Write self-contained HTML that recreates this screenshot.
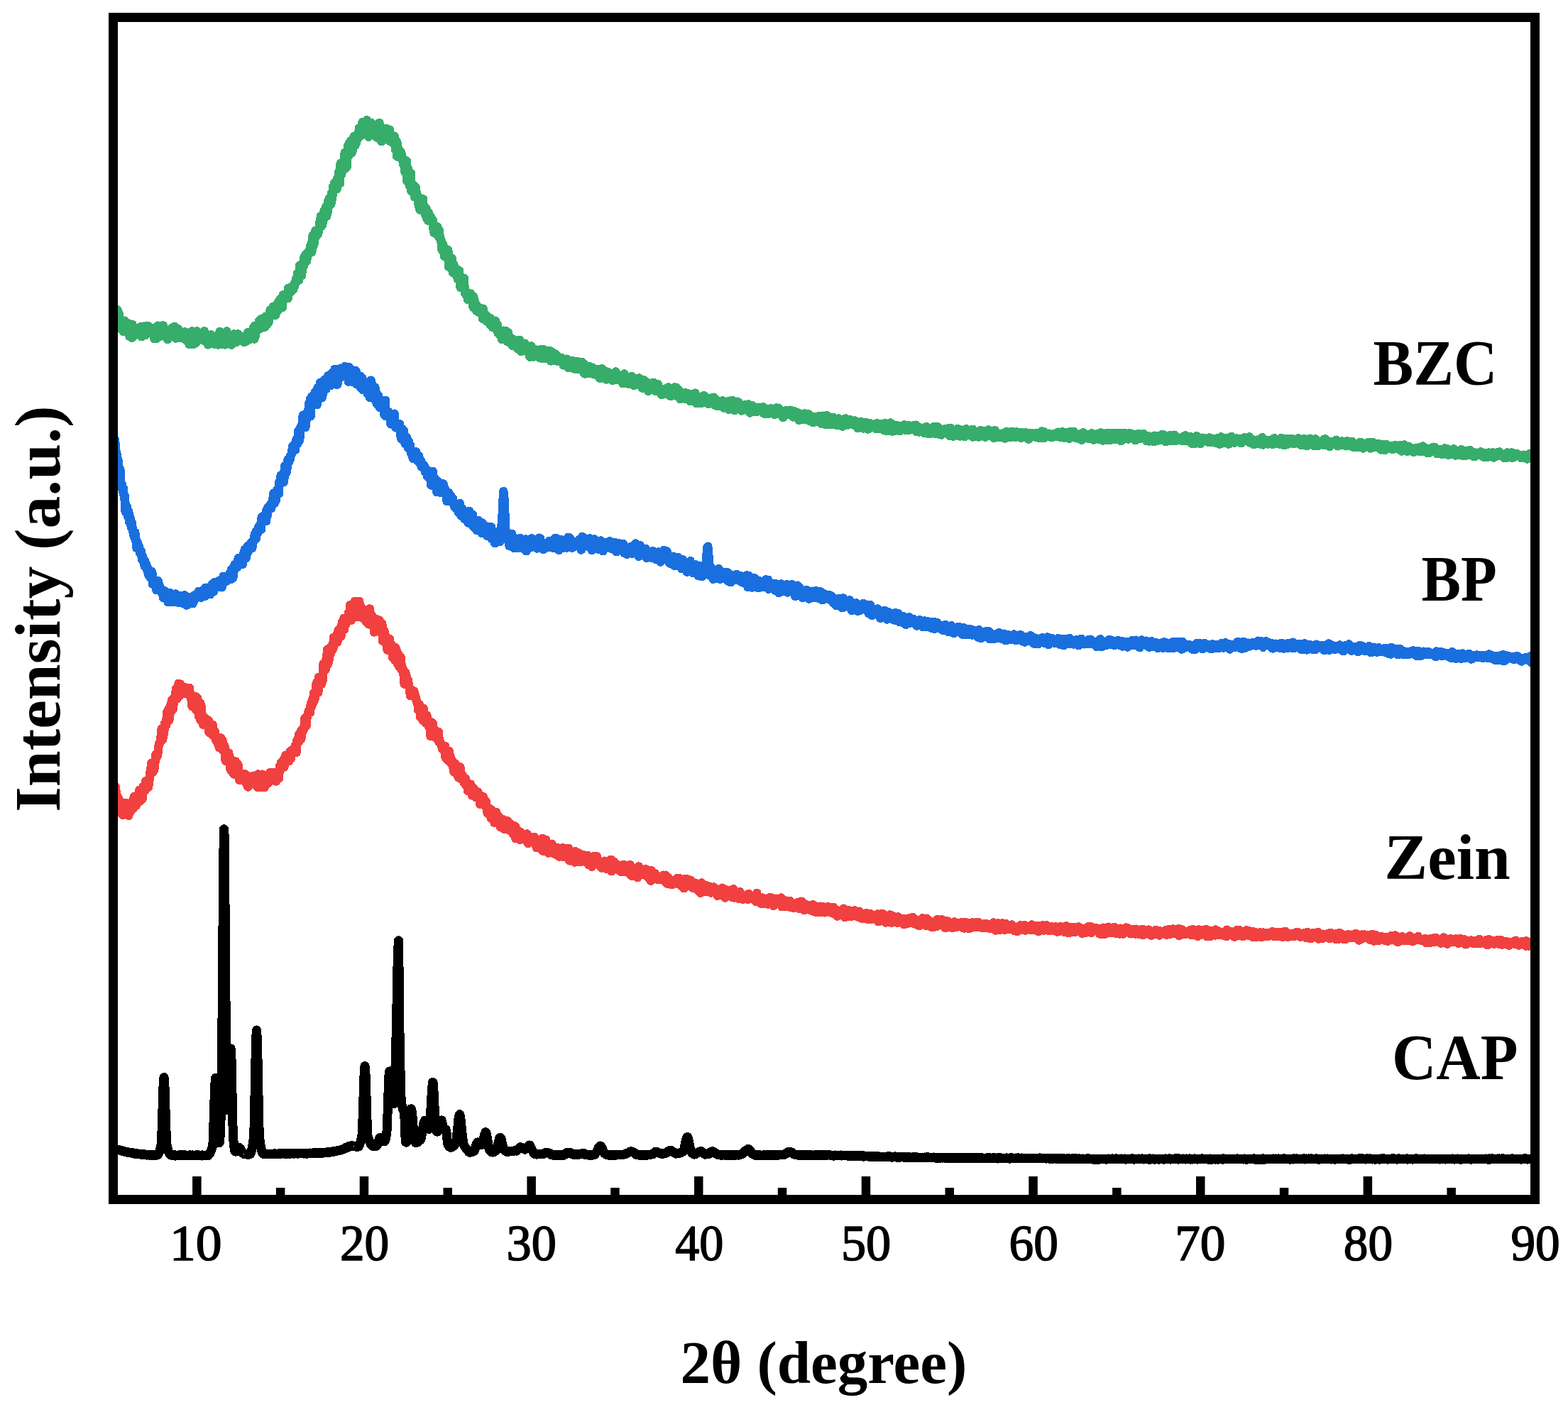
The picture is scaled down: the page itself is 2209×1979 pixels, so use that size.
<!DOCTYPE html>
<html lang="en">
<head>
<meta charset="utf-8">
<title>XRD patterns</title>
<style>
html,body{margin:0;padding:0;background:#fff;}
body{width:2209px;height:1979px;overflow:hidden;}
svg{display:block;}
text{font-family:"Liberation Serif",serif;fill:#000;}
.c{fill:none;stroke-linejoin:round;stroke-linecap:butt;shape-rendering:crispEdges;}
.tk{font-size:72px;stroke:#000;stroke-width:1.6px;stroke-linejoin:round;}
.b{font-size:90px;font-weight:bold;}
.xl{font-size:85px;font-weight:bold;}
</style>
</head>
<body>
<svg width="2209" height="1979" viewBox="0 0 2209 1979">
<rect width="2209" height="1979" fill="#fff"/>
<g>
<path class="c" stroke="#37AD6B" stroke-width="50" transform="translate(159.5 0) scale(.25)" d="M0 1746l3-11 3-2 3 7 3 27 3-10 3 14 3 3 3-28 3 62 3 13 3-50 3 31 3 29 3-13 3 4 3 35 3-22 3-14 3 47 3-37 3-24 3 45 3-7 3-12 3 19 3 5 3 13 3-5 3-42 3 31 3 43 3-27 3-5 3 30 3 8 3-74 3 24 3 42 3-41 3 17 3-16 3-4 3 14 3-7 3 17 3-15 3 18 3-2 3-14 3 0 3-20 3 40 3 15 3-25 3-6 3 5 3-32 3 33 3 4 3-6 3 17 3-18 3-26 3-7 3 0 3 12 3 11 3 11 3-7 3-11 3 5 3-7 3 26 3-25 3 29 3 12 3 17 3-43 3-19 3 14 3 48 3-51 3 36 3-59 3 28 3 0 3 20 3-46 3 57 3-33 3 19 3-29 3 31 3-48 3 50 3 5 3-35 3 29 3 2 3-24 3 18 3 33 3-45 3 15 3-23 3 10 3-10 3 16 3 1 3-29 3 16 3 6 3 27 3-20 3-36 3 9 3 57 3-30 3-1 3 18 3-41 3 23 3 29 3-30 3 4 3 10 3 12 3-31 3 7 3 15 3 0 3 17 3-26 3 19 3-31 3 23 3 7 3 20 3-6 3 9 3-7 3-8 3 33 3-25 3-7 3 8 3-16 3-35 3 46 3 14 3 13 3-27 3-21 3 21 3 21 3-31 3-36 3 38 3-4 3-10 3 12 3-3 3-13 3 15 3 0 3-1 3 0 3-12 3 30 3-13 3-39 3 46 3-31 3 27 3-2 3 9 3-13 3 40 3-4 3-37 3 12 3-8 3-11 3-8 3 20 3 3 3-13 3 24 3 16 3-32 3 35 3-17 3-16 3-12 3-3 3 13 3 38 3-26 3-26 3-21 3 10 3 34 3 28 3-38 3-23 3 53 3-8 3 5 3-33 3 45 3-63 3 56 3-69 3 68 3-38 3 0 3 12 3-1 3 4 3 9 3-4 3 27 3-30 3 9 3-18 3 5 3-27 3 12 3-3 3 16 3 22 3-22 3-4 3-22 3 30 3 2 3-11 3 19 3-18 3-7 3 10 3-7 3 18 3 1 3-16 3 27 3-13 3-2 3-23 3 25 3 5 3-25 3-23 3-1 3 24 3 17 3-4 3-19 3 0 3-20 3 12 3-14 3 30 3-55 3 67 3-75 3 59 3-29 3-23 3 19 3-17 3 0 3-14 3-22 3 42 3 2 3-40 3-15 3 46 3-19 3-10 3 12 3-11 3 1 3 26 3-36 3-23 3 5 3 40 3-11 3-16 3 15 3-24 3-3 3-43 3 29 3-21 3 20 3-11 3-34 3 46 3-43 3 43 3 2 3-2 3-21 3-2 3-36 3-9 3 40 3-49 3 35 3-45 3 44 3-38 3 26 3-1 3 13 3-70 3 5 3 20 3-14 3 5 3 1 3 2 3-2 3-19 3 21 3-58 3 16 3-5 3 8 3 4 3-11 3 6 3-26 3 15 3 2 3-17 3 2 3-24 3 6 3-18 3-16 3 19 3-45 3 14 3-19 3 44 3-82 3 21 3 1 3-11 3 45 3-40 3-4 3-31 3 17 3-49 3 21 3-9 3-25 3 41 3-17 3-8 3-29 3 9 3-1 3-13 3-25 3 21 3-38 3 47 3-18 3-76 3 61 3-41 3 24 3-55 3-15 3 11 3-7 3 6 3 12 3-9 3-11 3-20 3-32 3-4 3-28 3 58 3-27 3 16 3-55 3 15 3-36 3 40 3-13 3-38 3-15 3 56 3-59 3 33 3-63 3 33 3-46 3-2 3 32 3 5 3-63 3 33 3-23 3-48 3 4 3 13 3-38 3 14 3 6 3-17 3 33 3-61 3 7 3-15 3-31 3 14 3 54 3-113 3 20 3 41 3-32 3 2 3-7 3 2 3 7 3-94 3 32 3 33 3 20 3-7 3-64 3-53 3 8 3 47 3-72 3 28 3-37 3 44 3 23 3-8 3-22 3-26 3-36 3 37 3 15 3-40 3 29 3-42 3 17 3-2 3-7 3-24 3-30 3 24 3-21 3 41 3-41 3 8 3-44 3 34 3 22 3-14 3-27 3 47 3-11 3-47 3-16 3 29 3 7 3-4 3 62 3-40 3 21 3-43 3-15 3-2 3 46 3-21 3-12 3 30 3-25 3 39 3-31 3 24 3-4 3 36 3-29 3-10 3-39 3 57 3-61 3 56 3-16 3 36 3 29 3-41 3 24 3 8 3-53 3 9 3 34 3-52 3 41 3-43 3 32 3 9 3-34 3 47 3-28 3-19 3 65 3-37 3 1 3 10 3-4 3 40 3-33 3 31 3-37 3 19 3 58 3-46 3-2 3 86 3-69 3 37 3 24 3-19 3-4 3 9 3-6 3 11 3 7 3 21 3 12 3 22 3-18 3 18 3 43 3-63 3 38 3-39 3 116 3-19 3-52 3 18 3 30 3 51 3-50 3-24 3 102 3-16 3-2 3-20 3 26 3 0 3 44 3-32 3-23 3 37 3-4 3 13 3 14 3 32 3-33 3 55 3 13 3-45 3 16 3-9 3 17 3 17 3-57 3 63 3-6 3-14 3 46 3-25 3-9 3 56 3-18 3 17 3 13 3-43 3 28 3-9 3-1 3 29 3-5 3-8 3 5 3 46 3-8 3 35 3-14 3 15 3-21 3 26 3-14 3-27 3 28 3 18 3-28 3 45 3-8 3 16 3 7 3 44 3 10 3-30 3 1 3 14 3 50 3-43 3 2 3 14 3 35 3-2 3 2 3-44 3 94 3-17 3-33 3 45 3-21 3-1 3-22 3 60 3 23 3-16 3-28 3 30 3 21 3 4 3-11 3 2 3-20 3 53 3-40 3 9 3-16 3 47 3 47 3-55 3 43 3 15 3-4 3-29 3 5 3-26 3 61 3 25 3-10 3 20 3-9 3 1 3 33 3-16 3-8 3 25 3-4 3-32 3 32 3-8 3 10 3 0 3 43 3-58 3 14 3 14 3 30 3 11 3 8 3-29 3 16 3 3 3 18 3-2 3-14 3 17 3-16 3-5 3 7 3-3 3 55 3-57 3 41 3 15 3-11 3 9 3-19 3 35 3-17 3-8 3 8 3 8 3 19 3 1 3-28 3 40 3-5 3-12 3 27 3-16 3 9 3-3 3 3 3-29 3 2 3 21 3 27 3 1 3-27 3 46 3-16 3 0 3 9 3 19 3-19 3 4 3 38 3-30 3 13 3-32 3 34 3-23 3 4 3-8 3-5 3 7 3 51 3-26 3-22 3 28 3 27 3-30 3 20 3-15 3 22 3-12 3 33 3-36 3 20 3-15 3 32 3-13 3 6 3-17 3 19 3 17 3 4 3-40 3 5 3-15 3 31 3 3 3 31 3-33 3 17 3-14 3 26 3-2 3-1 3-38 3 30 3-16 3 16 3 2 3 1 3 16 3 0 3-10 3 34 3 3 3-27 3-34 3 14 3 5 3 36 3 5 3-13 3-3 3-13 3-11 3 16 3 11 3-21 3 16 3 6 3 0 3 17 3-21 3 14 3-3 3-37 3 29 3 3 3 21 3-53 3 48 3-9 3 12 3-14 3 4 3-11 3 3 3-16 3 14 3-6 3-18 3 46 3-27 3 40 3-25 3-27 3 41 3-4 3 9 3-31 3 34 3-26 3-11 3 9 3 0 3 14 3 19 3-17 3-1 3 0 3 9 3 11 3-16 3-6 3 15 3 10 3-11 3 28 3-21 3 8 3-2 3 16 3-23 3-13 3 32 3-16 3 33 3-1 3-18 3-7 3 14 3-27 3 25 3-27 3 11 3 33 3-15 3-23 3 38 3-32 3 38 3-16 3-9 3-19 3 24 3 15 3-4 3 0 3 5 3-6 3 13 3-18 3-25 3 13 3 17 3 29 3-49 3 55 3-12 3-7 3-1 3 10 3-10 3 19 3-17 3-24 3 17 3 3 3 9 3-7 3 13 3-25 3-2 3 37 3-21 3 20 3-13 3 2 3 15 3-19 3-8 3 28 3-34 3 20 3 29 3-14 3 17 3-9 3-34 3-11 3 43 3-31 3 8 3 29 3 1 3-19 3-16 3 46 3-16 3 7 3-25 3-7 3 22 3 0 3-14 3 0 3 11 3-3 3 19 3 12 3-31 3 8 3 6 3-12 3 0 3-21 3 16 3 31 3-3 3-16 3 3 3-1 3 16 3-18 3 3 3 3 3-3 3 7 3 28 3-28 3 15 3-41 3 35 3 18 3-26 3-6 3 22 3-12 3-14 3 16 3 25 3-40 3 14 3 17 3-13 3-22 3 13 3 15 3 9 3 16 3-43 3 38 3-24 3 7 3 7 3-11 3 20 3 0 3-18 3-19 3 17 3-1 3-5 3 31 3-10 3 25 3-13 3-33 3 41 3-3 3-8 3-11 3 5 3-11 3 16 3 11 3 22 3-33 3 3 3 9 3-12 3 1 3 9 3 4 3-5 3 5 3-29 3 12 3 16 3 20 3-11 3-8 3-17 3 23 3-25 3 31 3 0 3-5 3-2 3 2 3 29 3 4 3-31 3 28 3-11 3-15 3 9 3-9 3 21 3-27 3 17 3-13 3 28 3-31 3-8 3 8 3 15 3-2 3 30 3-39 3 0 3 18 3-24 3 31 3 6 3-15 3-28 3 16 3 32 3-45 3 28 3 8 3-1 3-22 3 14 3 17 3 20 3-9 3-23 3 23 3-6 3-2 3 4 3-14 3 24 3-15 3-18 3 15 3 20 3-31 3 16 3-4 3 3 3 20 3 7 3-9 3-28 3 10 3 27 3-28 3 17 3-16 3-1 3 20 3-36 3 29 3 0 3 29 3-29 3 29 3-36 3 13 3-5 3-3 3 12 3 5 3-10 3 21 3-9 3 4 3-36 3 31 3-10 3-8 3-5 3 13 3-9 3 6 3 4 3 25 3-16 3-9 3 21 3-19 3-10 3 17 3-14 3 19 3 11 3-37 3 27 3 16 3-32 3 21 3 12 3-27 3 32 3-18 3 14 3-13 3 2 3-6 3 0 3 16 3-3 3-20 3-2 3 5 3 35 3-19 3-5 3 3 3-11 3 6 3 5 3-1 3-13 3 44 3-48 3 7 3 21 3-3 3 1 3-9 3-20 3 27 3-6 3-10 3 46 3-25 3 17 3-6 3 3 3-39 3 10 3-8 3 27 3-15 3 13 3-1 3 6 3 19 3-1 3-27 3 7 3-10 3 15 3-17 3 8 3-5 3 3 3 3 3 16 3 0 3-28 3 42 3-31 3 37 3-6 3-16 3-17 3-3 3 14 3 8 3 15 3-16 3-9 3 19 3 0 3 3 3-14 3 14 3-6 3-17 3 15 3 3 3-4 3 3 3-3 3-11 3 0 3-3 3-2 3 36 3 1 3-17 3 3 3 0 3-1 3 5 3 13 3-27 3 14 3 5 3-16 3-3 3-5 3 13 3 5 3-1 3 2 3-16 3 25 3 7 3-12 3 7 3-33 3 18 3-15 3 15 3-17 3 33 3-21 3-5 3 17 3-7 3-1 3 7 3 2 3 29 3-30 3 7 3-1 3 10 3-25 3 18 3-9 3-11 3 16 3-16 3 17 3 1 3 7 3-26 3 19 3 1 3-4 3-5 3 28 3-6 3-27 3 4 3 17 3 13 3-11 3 5 3 3 3-22 3 18 3 23 3-13 3-15 3 16 3 2 3-25 3 7 3 16 3 7 3-4 3-10 3-18 3 34 3-22 3 5 3-6 3 20 3-28 3 14 3 23 3-30 3 11 3 16 3-18 3 11 3-11 3 11 3 21 3-33 3 11 3 10 3 4 3 0 3 3 3-23 3 21 3 1 3-30 3 29 3-14 3-11 3 7 3 30 3-1 3 4 3-46 3 15 3 0 3 14 3 19 3-21 3-15 3-14 3 29 3-3 3 7 3-18 3 37 3-8 3 5 3-36 3 39 3-27 3 18 3-32 3 29 3 6 3-17 3-4 3-4 3 25 3 9 3-28 3 12 3-16 3-6 3 18 3-3 3 10 3 3 3-1 3 13 3 5 3-28 3 8 3-9 3-14 3 19 3-21 3 27 3-16 3 6 3 19 3-19 3 10 3-15 3-6 3 3 3 13 3-8 3 12 3 0 3-4 3 5 3 11 3-26 3 6 3 11 3-5 3-2 3 10 3 23 3-31 3 5 3-3 3 23 3-31 3 8 3 18 3-16 3 0 3 28 3-7 3-17 3 0 3-5 3-5 3 19 3-3 3-2 3 24 3-24 3 17 3-27 3 10 3-1 3 11 3-5 3 7 3-13 3 12 3-14 3 8 3 7 3 7 3 4 3-32 3 10 3-8 3 4 3 11 3 0 3 2 3-16 3 29 3-28 3 5 3 5 3 7 3 18 3-21 3-12 3-7 3 21 3-4 3 27 3-27 3 15 3 5 3-18 3 25 3-9 3-37 3 12 3 5 3 8 3 23 3-38 3 13 3 23 3-23 3 11 3-1 3-19 3 13 3-11 3 12 3 0 3-9 3 28 3-19 3 14 3-19 3 12 3-13 3 8 3 7 3-8 3-17 3 16 3 1 3 13 3-29 3 0 3 19 3-15 3-3 3 27 3-3 3-4 3-6 3-2 3 9 3 3 3-17 3-1 3 19 3-25 3 6 3 23 3-30 3 38 3-18 3 9 3-13 3 23 3-25 3 18 3-2 3 0 3-6 3 3 3 0 3-11 3 24 3 5 3-5 3-27 3 14 3-12 3-5 3 12 3 15 3 12 3-27 3 14 3-12 3 24 3-17 3-3 3 0 3-4 3-12 3 2 3-5 3 15 3 25 3-13 3-5 3-8 3 11 3-23 3 36 3 5 3-6 3 8 3-15 3-5 3 21 3-22 3-3 3 4 3 11 3-22 3 16 3 4 3-18 3 19 3-15 3 3 3-13 3 30 3-1 3 13 3-21 3-23 3 13 3 8 3 20 3-5 3 11 3-20 3-2 3 4 3-11 3-4 3-4 3 7 3-14 3 13 3 26 3-29 3 33 3-12 3-6 3-17 3 15 3 2 3-15 3 24 3 2 3 9 3-25 3 21 3-39 3 29 3 7 3-29 3 5 3-4 3 0 3 19 3-9 3 4 3 7 3 1 3-28 3 43 3-8 3-20 3 14 3-11 3 12 3-11 3 20 3-22 3 15 3-12 3 23 3-16 3-9 3-12 3 18 3-4 3 9 3-17 3-3 3 20 3 9 3-27 3 32 3-11 3-13 3 4 3 5 3 1 3-26 3 32 3-21 3 13 3-6 3 14 3-8 3-8 3 8 3-3 3 26 3-34 3-11 3 13 3 17 3-2 3 2 3-2 3-7 3 15 3 5 3-14 3 1 3 10 3-17 3 5 3 11 3-9 3-12 3 7 3-6 3 29 3-34 3 20 3-24 3 17 3 14 3-15 3-13 3 4 3 13 3 4 3 8 3-31 3 4 3 7 3-11 3 14 3 9 3 1 3-3 3 9 3-12 3-17 3 5 3-4 3 15 3 11 3-2 3-5 3 12 3 1 3-32 3 9 3-2 3 23 3-9 3 0 3-7 3-10 3-1 3 15 3-5 3 8 3-10 3 28 3 0 3-33 3 15 3-9 3 5 3 5 3-15 3 9 3 7 3-4 3-10 3 14 3-3 3-13 3 23 3-7 3-16 3 13 3-7 3 20 3-24 3-4 3 14 3 12 3-36 3 23 3 3 3-25 3 38 3-30 3 25 3-24 3 22 3-9 3 6 3-5 3 2 3-13 3 16 3-9 3 6 3-1 3-8 3 18 3-16 3-1 3 5 3-8 3 10 3 4 3-13 3 2 3 4 3 4 3-20 3-1 3 26 3-1 3-1 3 6 3-8 3-9 3 7 3-22 3 24 3-12 3 22 3-12 3-16 3 9 3 15 3-25 3 19 3-2 3-5 3-3 3 24 3-3 3-36 3 28 3-15 3-4 3 18 3-11 3-3 3-12 3 33 3-6 3-5 3 1 3 1 3-2 3 8 3-1 3 10 3-16 3 10 3-21 3 8 3 26 3-28 3 11 3-24 3 20 3-11 3 21 3-21 3 2 3 10 3 0 3 9 3-3 3-15 3 22 3-18 3-1 3 17 3-13 3-16 3 27 3-5 3-8 3 23 3-19 3-8 3 13 3-14 3-5 3 12 3 4 3 9 3-19 3 24 3-25 3 15 3-27 3 9 3-2 3 10 3 27 3-12 3-17 3 1 3-6 3 20 3 12 3-8 3-33 3 15 3-5 3-1 3 28 3-34 3 38 3-24 3-17 3 15 3 1 3-1 3 1 3 3 3-18 3 35 3-16 3 10 3-18 3-11 3 19 3 11 3-25 3 12 3-2 3-10 3 39 3-44 3 18 3-7 3-9 3 22 3 7 3-17 3-13 3 18 3 13 3-27 3 23 3-5 3 11 3-17 3-16 3 25 3-13 3 6 3-10 3-4 3 24 3-9 3-1 3 2 3 0 3 20 3-20 3-2 3-10 3 12 3 0 3-18 3 21 3-7 3 3 3 11 3-11 3 8 3-18 3 19 3-25 3 9 3 5 3 6 3 11 3-6 3 15 3-4 3-24 3 16 3 14 3-13 3 2 3-13 3-2 3 12 3-5 3 16 3-18 3 10 3 14 3-34 3 15 3-1 3 7 3-10 3-10 3 26 3-11 3-6 3 16 3-15 3 7 3-1 3 1 3-25 3 24 3-23 3 9 3 3 3 2 3 21 3 5 3-18 3 0 3-4 3 17 3-13 3-9 3 13 3-22 3 15 3-2 3 17 3-23 3 19 3-9 3 3 3-22 3 34 3-20 3 18 3-10 3 2 3-11 3 13 3-6 3 7 3-1 3-8 3 9 3 1 3 4 3-13 3 3 3-1 3 12 3-28 3 28 3-30 3 12 3 13 3-5 3-13 3 12 3 3 3 9 3-26 3 31 3-17 3 2 3 24 3-13 3 1 3-19 3 8 3-1 3 24 3-34 3 26 3-34 3 23 3 5 3 7 3-13 3-7 3-3 3 31 3-19 3-5 3-9 3 4 3 7 3 5 3-5 3-2 3-6 3 10 3 6 3-12 3 4 3-8 3 21 3-14 3-11 3 27 3-21 3-1 3 17 3-4 3-11 3 12 3 0 3 5 3 4 3-2 3-10 3-6 3-6 3 3 3 1 3-5 3 20 3 13 3-1 3-23 3-16 3 30 3-3 3 8 3-22 3 9 3-7 3 4 3 5 3-6 3-12 3 12 3 14 3-22 3 30 3-35 3 19 3 11 3-19 3-18 3 22 3 3 3 4 3-18 3 14 3 9 3-1 3-11 3-4 3-1 3-7 3 2 3 8 3-8 3 6 3 5 3-11 3 7 3 18 3-5 3-11 3-11 3 2 3 12 3-18 3 14 3-1 3-11 3 5 3 8 3 2 3-2 3-12 3-7 3 32 3-19 3 11 3-9 3-1 3 4 3 0 3 24 3-9 3 8 3-18 3 5 3 3 3-14 3 4 3 18 3-17 3 12 3-5 3 2 3 3 3-7 3 15 3-39 3 19 3 22 3-28 3 3 3 9 3-7 3 17 3-9 3-5 3-5 3 21 3-22 3 2 3-1 3-1 3 14 3-6 3 13 3-16 3 19 3-9 3-4 3-22 3 8 3 4 3 12 3-7 3 5 3 10 3-14 3-7 3 15 3-3 3 12 3-16 3-20 3 16 3 12 3 8 3 0 3-25 3 30 3-6 3-30 3 21 3 2 3 8 3-7 3-16 3-8 3 17 3-5 3 7 3-9 3 11 3-21 3 7 3 3 3 18 3-12 3 6 3-12 3 13 3-7 3-2 3-8 3 15 3-24 3 7 3 24 3-22 3 20 3-7 3 17 3-18 3 1 3-18 3 15 3-17 3 24 3-22 3 13 3 0 3 25 3-35 3 9 3-3 3 6 3-4 3-14 3 32 3-20 3 15 3-18 3 22 3-4 3 0 3 15 3-7 3-32 3 15 3 12 3-15 3 25 3 2 3-11 3-11 3 9 3-8 3 3 3-9 3 19 3-6 3-6 3-9 3 25 3-34 3 22 3-23 3 20 3-9 3 5 3-7 3 12 3 12 3-12 3 21 3-9 3-12 3-7 3 8 3-1 3 6 3 0 3-7 3-3 3 7 3-6 3-13 3 15 3 11 3 8 3-1 3-6 3-13 3 3 3 5 3 8 3-10 3-13 3 8 3 12 3-9 3 0 3 9 3 4 3-6 3 9 3-8 3-19 3 13 3-8 3 22 3-4 3-16 3-5 3 16 3-2 3-14 3 24 3 7 3 1 3-9 3 8 3-9 3-9 3 11 3-3 3 11 3-18 3 2 3-8 3 9 3 13 3-27 3 30 3-6 3-7 3 16 3 2 3-14 3-5 3 1 3 7 3-15 3 4 3-5 3 10 3-16 3 17 3-1 3-10 3 27 3-9 3-10 3 16 3-31 3 0 3 13 3 7 3 2 3-5 3-1 3 4 3 9 3-11 3-8 3 1 3-3 3 18 3-2 3-3 3 21 3-23 3 3 3 4 3-8 3-5 3 5 3 25 3 0 3-10 3-22 3 10 3-3 3 18 3-1 3-8 3 4 3-3 3-3 3-4 3 7 3 3 3 9 3-20 3 4 3 10 3-1 3 3 3-20 3 5 3 10 3-5 3 9 3 3 3-2 3-14 3 4 3 5 3-16 3 35 3-13 3-10 3 9 3-16 3-6 3 31 3 2 3-19 3 0 3 23 3-8 3 0 3-20 3 1 3 10 3 3 3-2 3 2 3-3 3 0 3 20 3-17 3-1 3 18 3-9 3-12 3 6 3 4 3 1 3 1 3-11 3-4 3 5 3 17 3-21 3 13 3 6 3 3 3-13 3-18 3 11 3-1 3 17 3-19 3 3 3 5 3 9 3 0 3 13 3-21 3 13 3 8 3-24 3 8 3 5 3-17 3 8 3 1 3 8 3-22 3 23 3-23 3 12 3 16 3 2 3-2 3 10 3-21 3 7 3 10 3-21 3 17 3-8 3-4 3 19 3 4 3-20 3-1 3-3 3 1 3-11 3 6 3 26 3-30 3 27 3-25 3 17 3 16 3-11 3 5 3-15 3 7 3-7 3 6 3 0 3-1 3-7 3-10 3 15 3 10 3 11 3-25 3 15 3-14 3 6 3 14 3-8 3-13 3 9 3 1 3-1 3-17 3 14 3 20 3-8 3-17 3 9 3-3 3 21 3-16 3-11 3 8 3 15 3-24 3 15 3 5 3 3 3-27 3-1 3 28 3-10 3-8 3 1 3 2 3 22 3-22 3 13 3 10 3-13 3-5 3 8 3-1 3-10 3 5 3-4 3 10 3 2 3-6 3-12 3 13 3-7 3 3 3-1 3 21 3-18 3 2 3 1 3-6 3-2 3 24 3-22 3 3 3 7 3-14 3 5 3 10 3-6 3 8 3 7 3-14 3-10 3 4 3 24 3-25 3 14 3-3 3 1 3-4 3 9 3-22 3 20 3-13 3-2 3-7 3 19 3-9 3 7 3-3 3 5 3-2 3 13 3-5 3 9 3-17 3 7 3-7 3-5 3 20 3-28 3 24 3-10 3-2 3 2 3-6 3 15 3-2 3-21 3 29 3-12 3 8 3 1 3-9 3 0 3-2 3 2 3-2 3-8 3 4 3 5 3-3 3 5 3 1 3-1 3 5 3 8 3-17 3 4 3 8 3-13 3 2 3 4 3 4 3-2 3-3 3-1 3 19 3-18 3-2 3 2 3-11 3 19 3-16 3-1 3 15 3-5 3-6 3 8 3-6 3 5 3 0"/>
<path class="c" stroke="#1A6FDF" stroke-width="50" transform="translate(159.5 0) scale(.25)" d="M0 2383l3 95 3-4 3 3 3 22 3 41 3 8 3 16 3 51 3-25 3 58 3-8 3 43 3-40 3 83 3-2 3 4 3 21 3 20 3-17 3 34 3 27 3-17 3 89 3-38 3 10 3 1 3 43 3 11 3-29 3 56 3 1 3-24 3 35 3 21 3-27 3 32 3 8 3 28 3-11 3 29 3-31 3 46 3 3 3 39 3-36 3 13 3 29 3-19 3 15 3 26 3-10 3-3 3 12 3 37 3-16 3 5 3 26 3 7 3 16 3-25 3 14 3-1 3 17 3 21 3-16 3 32 3 11 3-27 3 11 3 29 3-38 3 37 3-32 3 68 3-25 3 5 3 6 3-7 3 5 3 22 3 28 3-16 3-38 3 28 3-19 3 47 3-25 3 19 3-9 3 15 3 13 3-12 3 14 3 27 3-13 3 2 3-28 3 12 3 12 3 7 3-12 3-5 3 49 3-51 3 8 3 10 3 6 3-24 3 4 3 45 3-27 3 3 3-12 3 5 3 1 3 9 3-24 3 46 3 0 3-6 3-12 3 21 3 1 3-6 3 4 3-28 3-10 3 3 3 39 3-21 3 7 3 10 3-37 3-4 3 41 3-25 3 18 3 23 3-36 3 29 3-14 3-20 3 14 3-19 3 14 3 1 3-4 3-13 3 39 3-25 3 14 3-3 3-34 3 15 3 5 3-23 3 3 3-3 3 13 3-30 3 32 3-24 3 1 3 5 3 20 3-9 3-30 3 16 3 16 3-11 3-10 3 20 3-47 3 16 3 4 3-21 3 39 3-23 3 12 3-18 3-4 3 32 3-36 3-3 3-9 3-10 3 5 3 22 3 14 3-50 3 35 3-23 3-8 3 9 3-5 3 18 3-25 3-10 3 19 3-8 3-14 3 10 3 21 3 8 3-35 3 2 3-29 3 2 3 15 3 6 3-20 3 13 3 11 3-20 3-1 3 3 3 9 3-18 3-17 3 10 3-9 3-24 3 55 3-46 3 39 3-30 3-13 3-31 3 19 3-23 3 13 3 7 3-1 3-19 3-32 3 11 3 6 3-6 3 2 3 0 3-20 3 38 3 3 3-17 3-46 3 15 3-35 3 21 3 29 3-6 3-25 3-3 3-37 3 30 3-31 3 22 3-18 3 2 3-21 3 16 3 13 3-20 3-14 3-14 3-12 3-20 3 27 3 1 3-45 3 8 3-8 3 8 3-31 3 8 3-11 3-12 3-1 3 30 3-68 3-4 3 13 3 18 3-19 3-2 3-18 3 6 3 29 3-63 3 36 3-47 3-4 3-4 3 15 3-1 3-14 3-15 3 24 3-34 3-2 3-18 3-30 3 42 3 12 3-56 3-6 3 45 3-45 3 7 3-25 3 2 3 25 3-67 3 16 3-6 3-45 3 33 3-27 3 13 3 16 3 3 3-18 3-73 3 37 3 1 3 0 3-10 3-30 3-35 3 20 3-6 3-17 3 5 3-24 3-3 3-5 3-23 3-22 3 25 3-22 3 19 3-1 3 0 3-51 3 9 3-23 3 30 3-42 3-32 3 59 3-3 3-33 3-44 3 12 3-5 3-19 3-47 3-8 3 60 3-49 3 3 3 57 3-52 3-18 3 20 3-34 3-12 3 26 3-70 3 61 3-81 3 95 3-107 3 32 3-13 3 4 3 5 3-38 3 40 3-57 3 45 3 11 3-53 3 67 3-95 3 46 3-24 3 29 3 10 3-91 3 38 3 29 3 19 3-55 3 33 3-72 3 43 3-50 3 37 3-8 3 22 3-13 3-36 3-9 3-17 3 13 3-7 3 33 3 18 3-15 3-54 3 3 3 20 3-12 3-14 3 33 3-54 3 29 3 13 3-9 3 54 3-2 3-25 3-48 3 27 3-25 3-13 3-6 3 51 3-6 3-6 3 7 3-7 3-32 3 11 3-28 3 39 3-26 3-9 3 30 3-2 3-20 3 74 3-82 3 42 3-17 3 12 3-25 3 23 3 30 3 19 3-57 3 7 3 52 3-37 3 5 3-34 3 76 3-15 3-35 3 29 3-2 3-3 3 2 3 40 3-60 3 2 3 17 3-7 3 64 3-23 3-18 3-6 3 19 3 11 3-8 3-14 3 24 3 39 3-23 3-34 3 12 3 64 3-24 3-73 3 8 3 64 3-6 3-18 3 53 3-13 3 2 3-49 3 30 3-4 3 65 3-45 3 18 3-18 3 36 3-1 3 32 3-18 3-22 3 39 3-27 3 21 3 2 3-10 3 54 3-57 3-24 3 90 3-15 3-17 3 15 3 12 3-20 3 30 3 3 3 1 3 34 3-46 3 45 3-26 3 33 3-2 3-42 3-19 3 61 3-1 3 18 3-16 3 6 3 3 3 11 3-22 3 12 3-13 3 35 3 32 3 15 3-26 3-29 3 42 3 6 3-37 3 43 3 28 3-11 3 17 3-41 3 34 3-21 3 48 3-37 3 41 3-7 3-12 3 34 3 14 3-20 3 25 3 20 3-27 3-7 3 11 3 6 3 9 3-29 3 33 3-14 3 6 3 30 3-32 3 20 3-1 3 8 3 0 3 34 3-13 3-4 3 13 3 11 3-15 3 19 3 19 3-17 3-1 3 14 3 26 3-13 3-15 3 39 3-25 3 15 3-11 3 62 3-31 3-5 3-42 3 19 3 63 3-39 3-3 3 18 3-3 3 5 3 57 3-29 3-31 3 14 3 24 3-27 3 24 3 27 3-52 3 28 3 6 3-6 3-25 3 38 3 13 3-23 3 3 3 24 3 0 3 44 3-23 3 7 3-33 3 43 3 3 3-22 3-1 3-5 3 27 3-3 3-9 3 31 3 4 3 10 3 6 3-13 3 4 3-3 3 14 3-8 3 26 3 9 3-3 3-50 3 52 3-23 3 42 3-32 3-8 3 26 3-9 3 28 3 12 3-17 3 17 3 7 3-3 3 5 3 2 3 11 3-47 3-19 3 12 3 48 3 8 3-12 3-1 3-36 3 65 3-12 3 20 3-36 3 31 3-12 3-1 3 34 3-33 3 0 3-22 3 20 3 8 3-19 3 29 3-7 3 39 3-57 3 15 3 31 3-18 3 8 3-20 3 32 3-16 3 33 3-21 3 31 3-5 3-45 3-4 3 48 3-10 3 9 3-45 3 68 3-15 3-7 3-10 3 5 3 21 3 30 3-13 3-16 3-35 3 40 3-26 3-16 3 58 3-31 3 30 3-28 3-42 3-21 3-1 3-61 3-71 3-59 3 14 3 57 3 74 3 66 3 54 3-8 3 15 3-7 3 15 3-14 3 41 3-50 3-8 3-2 3 63 3-70 3 24 3 14 3-14 3 55 3-22 3-4 3-4 3-23 3 11 3 17 3 24 3-29 3-7 3 18 3-37 3 22 3 2 3 22 3-24 3 36 3-23 3-6 3-9 3 24 3 4 3-42 3 67 3-28 3-23 3 34 3-12 3-9 3 18 3-23 3 7 3 14 3-50 3 41 3-27 3 13 3 3 3 0 3 9 3-30 3 21 3-16 3 43 3-5 3-21 3 12 3-45 3 37 3-34 3 51 3-16 3 18 3-14 3-11 3 34 3-8 3-23 3 23 3-26 3 20 3-12 3-3 3 4 3-16 3 30 3-37 3 4 3 32 3-18 3 10 3-2 3 4 3-28 3 37 3-15 3-4 3-36 3 31 3 20 3-49 3 18 3 33 3-18 3 32 3-21 3-21 3 10 3-27 3 18 3-1 3 2 3 29 3-32 3 18 3-2 3-27 3 18 3 2 3 21 3-33 3 26 3-52 3 25 3 16 3-35 3 28 3-7 3-8 3 41 3-8 3-12 3 7 3 7 3-30 3 5 3 4 3 10 3 2 3-12 3-3 3-13 3-3 3 0 3 30 3 3 3 24 3-3 3-71 3 18 3 3 3 7 3-18 3 21 3 10 3-15 3 21 3 0 3-15 3 24 3-25 3-9 3-12 3 0 3 38 3-18 3 46 3-55 3 20 3-16 3 23 3-34 3 34 3-20 3 18 3-2 3 7 3-22 3 41 3-19 3 19 3-12 3-6 3-30 3 14 3 19 3 11 3 15 3-35 3-8 3 25 3-2 3-15 3 9 3-23 3 27 3 1 3-27 3 28 3-14 3-22 3 5 3 36 3-1 3-20 3-11 3 34 3-5 3 10 3-40 3 19 3-9 3 42 3-19 3 3 3-13 3-1 3-18 3 19 3 16 3-21 3 16 3-25 3 14 3-5 3-11 3 19 3 33 3-7 3 7 3-31 3 11 3 27 3-29 3-7 3 3 3 6 3-10 3 9 3-14 3 29 3-18 3 27 3-40 3 25 3-17 3-9 3 23 3-39 3 34 3-7 3 16 3-7 3 26 3 11 3-42 3-14 3-6 3 23 3-9 3 35 3-9 3-2 3 17 3-21 3-1 3 11 3-25 3 42 3 11 3-28 3 13 3 0 3-14 3 2 3 4 3 11 3-13 3 3 3 21 3-39 3 16 3 2 3 5 3 12 3 4 3 7 3-22 3 15 3-6 3-13 3-15 3 30 3-2 3-22 3 50 3-48 3 7 3-5 3 17 3-18 3-19 3 18 3 15 3 20 3-14 3-6 3-27 3 36 3 2 3-7 3 6 3 31 3-15 3-18 3 5 3-1 3 1 3 7 3-18 3 8 3 8 3 38 3-31 3-2 3 28 3-24 3 7 3-27 3 25 3-13 3 0 3 41 3-32 3 18 3 26 3-12 3-39 3 9 3 32 3-19 3-10 3 17 3 5 3-15 3 50 3-9 3-22 3-8 3 4 3-13 3-14 3 26 3 8 3 21 3 11 3-19 3-15 3 26 3-18 3-20 3 20 3-18 3 23 3 2 3 12 3 24 3 1 3-12 3 3 3-1 3-47 3 34 3 27 3-12 3-1 3-23 3 15 3 4 3-13 3-38 3-16 3-48 3-32 3-6 3 33 3 50 3 33 3 48 3-17 3-28 3 48 3 0 3-14 3 31 3-12 3 10 3-31 3 16 3-15 3 22 3-12 3-10 3-3 3-23 3 48 3-40 3 51 3-38 3 34 3-38 3 19 3-6 3 9 3 9 3 7 3-7 3 0 3-27 3 32 3-15 3-17 3 48 3-15 3-13 3 5 3 5 3 25 3-14 3-10 3 8 3-8 3 8 3-3 3-23 3 26 3 1 3-8 3-22 3 21 3 10 3-4 3-5 3-15 3 31 3 0 3-24 3 20 3-23 3 35 3-18 3-12 3 5 3-6 3 20 3 0 3 14 3-44 3 45 3 22 3 0 3-64 3 50 3 7 3 3 3-23 3 3 3 26 3-31 3-3 3 9 3-12 3-15 3 41 3 2 3-1 3-11 3-17 3 41 3-41 3 28 3-3 3 13 3-25 3 10 3-17 3 11 3 19 3-34 3 11 3-1 3 24 3 1 3-44 3 45 3-21 3 6 3-28 3 52 3-6 3-17 3-4 3 8 3 3 3 0 3-12 3 8 3-9 3 7 3 28 3-8 3-29 3 6 3-2 3 41 3-33 3 10 3 31 3-2 3-45 3 26 3-24 3-6 3 6 3 18 3 16 3-10 3-11 3 0 3 6 3 18 3-22 3-18 3 32 3 13 3-2 3-5 3-14 3-3 3-1 3 6 3-2 3-24 3 33 3-19 3 6 3-4 3 14 3 36 3-54 3-3 3 22 3-25 3 25 3 23 3-9 3-27 3 18 3 2 3-9 3 4 3 1 3 41 3-3 3-26 3 9 3-17 3 20 3 6 3-33 3 31 3-14 3 1 3 12 3 20 3-10 3-28 3 32 3-11 3 10 3-36 3 18 3-10 3 29 3-19 3 13 3-8 3-25 3 14 3-12 3 27 3 12 3-19 3-6 3 2 3-14 3 21 3 4 3 22 3-20 3 15 3 4 3-11 3-22 3 15 3 11 3-15 3 14 3 0 3-19 3 20 3 4 3-23 3 9 3 3 3 6 3-13 3 29 3-16 3 24 3-24 3 18 3 5 3-11 3 10 3 20 3-30 3 6 3 23 3-38 3 3 3 25 3 12 3-41 3 34 3 16 3-36 3 37 3-54 3 22 3 7 3 19 3-9 3 1 3-15 3-6 3 3 3 20 3 5 3-25 3-10 3 18 3 4 3 9 3 27 3-44 3 14 3 7 3 7 3-19 3 14 3-1 3-17 3-3 3 7 3 38 3-24 3-10 3 31 3-15 3 14 3-26 3 16 3-4 3 4 3-1 3-28 3 13 3-6 3 13 3 14 3 0 3-9 3 11 3-7 3-19 3 46 3-23 3 1 3-25 3 17 3 4 3 37 3-30 3-1 3 17 3-1 3-16 3 16 3-19 3 10 3 17 3-7 3-23 3 34 3 0 3 7 3-13 3 25 3-31 3 1 3 1 3 4 3 22 3-14 3 1 3-27 3 13 3 20 3-15 3 32 3-26 3-12 3 2 3-4 3 31 3-25 3 27 3-2 3-15 3 3 3-1 3 23 3-25 3-2 3-1 3-10 3 29 3 15 3-17 3 7 3-31 3 34 3 11 3 4 3-13 3 8 3-16 3-1 3 17 3-28 3 37 3 2 3-36 3 15 3 17 3 12 3-33 3 24 3-9 3-22 3 24 3 9 3-34 3 13 3 4 3-1 3 15 3-14 3 0 3-7 3 22 3-7 3 1 3 15 3-24 3 31 3-8 3-17 3 9 3-6 3 4 3-15 3 5 3 23 3-17 3 1 3 6 3 22 3-20 3-2 3-13 3 24 3 10 3-6 3-16 3-10 3 11 3-1 3-4 3 14 3 5 3-16 3 13 3 17 3-35 3 29 3 8 3-7 3-29 3 38 3-16 3 9 3-14 3 18 3-31 3 7 3 9 3 1 3 7 3 9 3-6 3-11 3 16 3 8 3-5 3 9 3-11 3 10 3-29 3-3 3 6 3 24 3 5 3-17 3 5 3 18 3-8 3 0 3-17 3 18 3-29 3 18 3 5 3 11 3-17 3 27 3-21 3 2 3-3 3 8 3 4 3-5 3-9 3-13 3 13 3-4 3-8 3 24 3-6 3 11 3-17 3 29 3-9 3-28 3 15 3 6 3-12 3 31 3-19 3-14 3 29 3-4 3 8 3-20 3-6 3-7 3 13 3 4 3 2 3 15 3-28 3 11 3 1 3 1 3-7 3-4 3 25 3 3 3-8 3-3 3-16 3 38 3-42 3 27 3 13 3-25 3 33 3-7 3-22 3 2 3-6 3 8 3 3 3-4 3-9 3-5 3 2 3 31 3-25 3 6 3-14 3 1 3 42 3-35 3 25 3-7 3-2 3-3 3-2 3-1 3 25 3-8 3-3 3 8 3-24 3 2 3 7 3-9 3 11 3 5 3-24 3 14 3 17 3-8 3 3 3 8 3-2 3-8 3 4 3-22 3 9 3 27 3-15 3-6 3 4 3 15 3 1 3-30 3 26 3-9 3-9 3 18 3-10 3-10 3 12 3 8 3-2 3-8 3-18 3 23 3-9 3 20 3-5 3 4 3-11 3-17 3 7 3 18 3-22 3 8 3-13 3 29 3-9 3 14 3-25 3 13 3 1 3-3 3 21 3-13 3-11 3-6 3 5 3 11 3 7 3-20 3 0 3 3 3 14 3-27 3 25 3-19 3 15 3-10 3 26 3 8 3-15 3-17 3 33 3-25 3 0 3 9 3-12 3 27 3 2 3-16 3 0 3-3 3 4 3 1 3-16 3-5 3 22 3 3 3-12 3-1 3 8 3 12 3-14 3-3 3 18 3-36 3 26 3 16 3-17 3-7 3-2 3 6 3-1 3-15 3 25 3-3 3-6 3 2 3 9 3-5 3 1 3-10 3 4 3-6 3 14 3-24 3 12 3 2 3 19 3-12 3-17 3 0 3 9 3 20 3-13 3 20 3-11 3-22 3 10 3-15 3 28 3-10 3 11 3-14 3 4 3 0 3-22 3 26 3 6 3-11 3 3 3 2 3-9 3-4 3 21 3-9 3-14 3 14 3-1 3 8 3-8 3-17 3 25 3 9 3-14 3-5 3-9 3 14 3-24 3 20 3 3 3-8 3 8 3-3 3 10 3-1 3-3 3-6 3 8 3-14 3 4 3-3 3-10 3 18 3 6 3 1 3-26 3 13 3 1 3-4 3 8 3 3 3 6 3-2 3-6 3-1 3 16 3 6 3-24 3 5 3 0 3-5 3-11 3 34 3-41 3 14 3 9 3 19 3-21 3-8 3 25 3-18 3 0 3 14 3-12 3 7 3 4 3-18 3-3 3 10 3-17 3-2 3 28 3-12 3 5 3 5 3-4 3-16 3 15 3 7 3-8 3 12 3-25 3 15 3 6 3 1 3-23 3-3 3 23 3-11 3 15 3-9 3-5 3 14 3-10 3-11 3 29 3-16 3 0 3-1 3 14 3-22 3 17 3-10 3 12 3 10 3-16 3-14 3 21 3-2 3-11 3-9 3 22 3-13 3 3 3-20 3 11 3 11 3 5 3-21 3 0 3-6 3 29 3-9 3-5 3 15 3-9 3-4 3 24 3-24 3 1 3-5 3-14 3 7 3 10 3-8 3 5 3 5 3 0 3 1 3-15 3 27 3-7 3-7 3 19 3-12 3 16 3-31 3 14 3 5 3-22 3 26 3 4 3-17 3 5 3 14 3-11 3-14 3 11 3 2 3-4 3-6 3 30 3-14 3-2 3-7 3 1 3-2 3 15 3-10 3-12 3 17 3 12 3-25 3-8 3 11 3 6 3 2 3-15 3 13 3-5 3 21 3-14 3 16 3-15 3-6 3 0 3 10 3-4 3 1 3-22 3 36 3-6 3-11 3-11 3 24 3-14 3-19 3 17 3 12 3 0 3 3 3 0 3-16 3-15 3 31 3-14 3 24 3-32 3-9 3 15 3-3 3 14 3-15 3 21 3-14 3 7 3 0 3-10 3 2 3 0 3-2 3 13 3-7 3 10 3 3 3-14 3 8 3 15 3-14 3-9 3 20 3 3 3-28 3 17 3-24 3 16 3 1 3-5 3 8 3-4 3-16 3 11 3-3 3 8 3-12 3 28 3-17 3 3 3-1 3-18 3 8 3 10 3-2 3 7 3-13 3 15 3-7 3-8 3 1 3 9 3 11 3-16 3 18 3-15 3-13 3 6 3 1 3-2 3 8 3-8 3 0 3 17 3-19 3 19 3-20 3 18 3-6 3 7 3-14 3 2 3-12 3 10 3-9 3 12 3 11 3-14 3-6 3 11 3-20 3 18 3-2 3 2 3-12 3 7 3-2 3-4 3 30 3-12 3 6 3-10 3-6 3 12 3-11 3 3 3-7 3 16 3-2 3-14 3 5 3-5 3 9 3-26 3 16 3-2 3 9 3 12 3-18 3-10 3 6 3 26 3-21 3-19 3 27 3 6 3 4 3-32 3 25 3 3 3-17 3 0 3 10 3-18 3 19 3-11 3-3 3-2 3 12 3-14 3 3 3 0 3-6 3 1 3 7 3 2 3 3 3-9 3 13 3-19 3 12 3-9 3-11 3 11 3 9 3 1 3-21 3 8 3 3 3 10 3 7 3 8 3-10 3-3 3 5 3-4 3-22 3 17 3 1 3-5 3 5 3-11 3 12 3 2 3 8 3-1 3-4 3-8 3-3 3 28 3-4 3-18 3 10 3-7 3-8 3 22 3-19 3-2 3 3 3 15 3-14 3 12 3-5 3 11 3 2 3-1 3-28 3 18 3-14 3 17 3 10 3-14 3 3 3-16 3 0 3 17 3-14 3 22 3-27 3 25 3-5 3-6 3-2 3 7 3 6 3-9 3-6 3-16 3 34 3-13 3-4 3 13 3-9 3 2 3-2 3-8 3 7 3-12 3 4 3 2 3 15 3-14 3-5 3 31 3-15 3 9 3-17 3-1 3 2 3-12 3 18 3-13 3 28 3 3 3-21 3 1 3-5 3 10 3-5 3-9 3 18 3-14 3 10 3 11 3-8 3-9 3 7 3 1 3-11 3 22 3-12 3-17 3 5 3 16 3-12 3 3 3-3 3 0 3-4 3 0 3 1 3 10 3-5 3-6 3 21 3-20 3 28 3-21 3 7 3-14 3 16 3-9 3 10 3-13 3-15 3 37 3-27 3 17 3-5 3-10 3 14 3-17 3 17 3-12 3 8 3-8 3 19 3-19 3 7 3 1 3-2 3 3 3 6 3-12 3 8 3-17 3 14 3-1 3 14 3-9 3-1 3 3 3 15 3-20 3-4 3 11 3-20 3 18 3-9 3 10 3-13 3 8 3-20 3 15 3 9 3-3 3-3 3 19 3-22 3 10 3 5 3-16 3 1 3 12 3-9 3-3 3 15 3-17 3 2 3 28 3-14 3-5 3 4 3-23 3 22 3 5 3-13 3-10 3 25 3-4 3 6 3-6 3-9 3 18 3-16 3 4 3 9 3-4 3 1 3-12 3-10 3 10 3 16 3-9 3 19 3-29 3 18 3-10 3 10 3-19 3 17 3 5 3 0 3-10 3 3 3 13 3-2 3-10 3-14 3 2 3 14 3-3 3 9 3-5 3-10 3 4 3 8 3 2 3-6 3-12 3 23 3-7 3-17 3 7 3 19 3-7 3 12 3-30 3 26 3-4 3-24 3 36 3-31 3-6 3 17 3 0 3 3 3 0 3-12 3 14 3 3 3-9 3-9 3 21 3 12 3-14 3-6 3 1 3-15 3 8 3 19 3-14 3 10 3-4 3-7 3 22 3-4 3-9 3 2 3-5 3-1 3-1 3 15 3-12 3 14 3-11 3 8 3-6 3-7 3 6 3 0 3-11 3 13 3-2 3-12 3 12 3-4 3 16 3-14 3 9 3 12 3-4 3-14 3-10 3 25 3-3 3-7 3 2 3 8 3-23 3 18 3-17 3-1 3 17 3 0 3-8 3-3 3-3 3 9 3-12 3 0 3 17 3-1 3-10 3 0 3 9 3-8 3 4 3 3 3 1 3-3 3 7 3-1 3-6 3-6 3 23 3-30 3 27 3-12 3-13 3 5 3-1 3 14 3-3 3 3 3-18 3 10 3 15 3-14 3-7 3 9 3 5 3 3 3-9 3-4 3 1 3 6 3-7 3 15 3 5 3 1 3-4 3-17 3 4 3 23 3-27 3-7 3 29 3-23 3 9 3 4 3 7 3 0 3 11 3-25 3 10 3 13 3-14 3 1 3-2 3-9 3 13 3-1 3 15 3-10 3-11 3-8 3 3 3 19 3-1 3-11 3 14 3 0 3-16 3 2 3 2 3 7 3-2 3-16 3 17 3 3 3-14 3 25 3-17 3 13 3-7 3-6 3 4 3 3 3-6 3 7 3-14 3-1 3 14 3-1 3-6 3-4 3 1 3 8 3-2 3-8 3 6 3 4 3-6 3 13 3-8 3-8 3 9 3 1 3-4 3 6 3-4 3 6 3 0 3-13 3-8 3 19 3-1 3-4 3-10 3 20 3-3 3 2 3-8 3 13 3-3 3-2 3 11 3-22 3-3 3 3 3 20 3-21 3 2 3 21 3-3 3-14 3 5 3-5 3-12 3 31 3-33 3 30 3-8 3 8 3 4 3-32 3 12 3 5 3-12 3 0 3 8 3-8 3 3 3 4 3 1 3-4 3 3 3 9 3 1 3-12 3-2 3 12 3 5 3-12 3 6 3-12 3 5 3 3 3-8 3 6 3 2 3 11 3-2 3-7 3 10 3 8 3-13 3-3 3 7 3-8 3-1 3 10 3-9 3 4 3-9 3 12 3-12 3 4 3 12 3-5 3-8 3-4 3-5 3 33 3-18 3 4 3 2 3 9 3-11 3-11 3-1"/>
<path class="c" stroke="#F14040" stroke-width="50" transform="translate(159.5 0) scale(.25)" d="M0 4457l3-25 3 14 3 31 3-48 3 88 3-54 3 28 3 34 3-25 3-2 3 27 3-13 3 39 3-4 3 36 3-18 3-26 3 54 3-11 3-50 3 15 3 13 3-37 3 34 3 14 3-30 3 20 3 4 3 30 3-67 3 33 3 13 3-50 3 41 3-26 3-9 3-23 3 47 3-65 3 41 3-14 3 0 3 22 3-38 3 24 3-48 3 22 3-6 3-40 3 9 3 52 3-14 3-17 3-13 3 29 3-66 3 30 3-13 3-2 3 5 3-51 3 33 3 8 3-15 3 6 3 4 3-29 3-16 3-24 3-36 3 17 3-50 3 17 3 36 3-55 3 35 3 6 3-49 3 5 3-42 3-6 3 19 3-8 3-18 3-28 3-19 3-6 3 1 3-32 3 16 3-65 3 34 3 25 3-46 3 17 3-24 3-37 3 13 3 1 3-25 3-51 3 0 3 16 3-34 3 64 3-60 3 19 3-47 3-1 3-25 3 31 3 21 3-62 3 30 3-22 3-10 3-11 3-42 3 48 3 10 3-58 3 5 3-34 3 23 3 46 3-66 3 59 3-7 3-34 3 35 3-9 3-8 3-16 3-3 3 19 3-11 3 7 3 4 3 20 3-13 3-8 3-1 3-13 3 45 3-15 3 30 3-1 3 45 3-9 3-34 3-8 3 5 3 35 3-45 3 53 3 25 3 2 3-71 3 37 3-15 3 84 3-11 3-69 3 100 3-86 3 83 3 6 3-29 3 51 3-35 3 4 3-8 3 8 3-1 3 25 3 4 3-6 3-15 3 0 3 68 3 0 3-39 3 33 3-25 3 26 3 19 3-57 3 33 3 6 3 20 3-22 3 40 3 9 3 6 3-20 3 30 3-25 3 10 3 41 3-13 3 3 3-44 3 16 3 32 3-37 3 58 3-21 3 10 3-13 3 17 3 67 3-39 3-13 3 43 3 12 3-28 3-19 3 45 3-23 3 70 3-21 3 31 3-50 3 33 3-33 3 66 3-33 3-29 3 65 3-74 3 62 3-2 3-49 3 64 3-53 3 51 3 32 3-26 3-7 3 9 3 13 3-22 3 33 3-33 3 4 3 10 3-15 3 21 3 1 3 31 3-11 3-31 3 62 3-29 3-20 3 17 3-16 3 18 3-1 3 10 3-15 3-1 3-8 3-18 3 38 3-6 3 5 3-5 3 27 3-3 3 9 3-74 3 72 3-31 3 1 3-26 3 56 3-26 3-17 3-28 3 22 3 10 3 27 3 15 3-5 3-29 3-28 3 23 3 9 3-19 3 25 3-21 3 0 3-38 3 27 3-13 3 18 3-10 3-2 3 17 3-39 3 9 3-8 3 16 3-9 3 42 3-12 3-17 3 3 3-28 3 37 3-39 3-31 3 22 3-37 3-1 3-3 3-7 3 16 3-25 3 42 3-27 3-3 3-37 3 27 3 3 3-1 3-26 3 4 3 27 3-21 3-7 3-30 3 41 3-33 3-9 3 4 3 6 3-22 3 0 3-9 3-8 3 25 3 13 3-67 3 16 3-28 3 20 3-44 3 37 3-37 3-12 3 41 3-52 3 7 3 2 3-22 3 6 3-4 3-56 3 36 3 8 3-2 3-54 3-3 3-6 3-19 3 2 3-12 3 18 3-45 3-10 3 21 3-26 3-19 3 21 3-53 3 40 3-10 3-26 3-42 3-19 3 10 3 39 3 6 3-86 3 8 3 3 3-11 3 5 3 34 3-9 3-27 3 11 3-90 3 12 3 11 3-8 3 16 3-55 3 6 3-61 3 84 3-67 3 50 3-69 3-9 3 35 3-6 3-39 3 13 3 9 3-6 3-64 3 26 3-26 3 21 3-21 3 2 3-20 3 45 3-18 3-49 3 13 3-18 3-3 3 13 3 28 3-57 3-22 3 29 3-8 3-42 3 63 3-52 3-1 3 24 3-23 3 5 3-8 3-9 3-29 3 1 3 39 3-85 3 28 3 58 3-58 3 18 3 10 3 0 3-26 3 38 3-90 3 48 3-30 3 37 3 26 3 8 3-55 3 43 3-76 3 15 3 34 3-5 3-9 3 51 3 8 3-39 3 14 3-7 3 25 3-5 3-35 3 67 3 3 3-46 3 2 3 46 3 10 3-12 3-75 3 39 3-1 3 53 3-52 3 28 3 34 3-38 3 69 3-32 3 16 3-49 3 17 3 22 3-46 3 35 3 24 3-39 3-14 3 37 3-6 3 28 3 12 3-54 3 98 3-30 3-15 3-12 3 47 3-25 3 21 3 33 3-18 3 50 3-32 3 24 3-44 3-11 3 32 3 37 3-12 3-22 3 32 3 40 3-24 3-18 3 32 3 23 3-71 3 68 3-56 3 62 3 18 3-11 3-42 3 68 3-4 3-26 3-22 3 69 3-23 3 30 3-11 3 12 3 37 3 37 3-64 3-1 3 19 3 5 3 17 3 29 3-26 3 29 3 7 3 18 3 33 3-22 3 3 3 2 3 15 3-17 3 21 3-28 3 13 3 25 3-8 3 20 3 4 3 14 3 0 3 39 3-13 3-18 3 34 3 38 3-18 3-22 3 41 3-36 3 53 3-68 3 37 3 17 3-10 3 21 3 19 3-45 3 19 3 16 3 22 3-15 3-10 3 47 3 38 3-49 3 5 3 12 3-43 3 76 3-45 3 2 3 47 3-5 3-22 3 33 3-2 3-8 3 21 3-46 3 40 3 22 3-7 3 11 3-1 3 13 3 18 3-6 3-1 3 3 3 6 3-19 3 64 3-10 3 18 3-24 3-20 3 55 3-13 3-41 3 27 3-1 3 40 3-19 3 11 3-4 3 29 3 12 3 23 3-31 3-17 3 38 3 10 3-5 3 11 3-28 3 51 3-41 3 13 3-30 3 3 3 35 3 31 3-17 3-6 3 18 3 1 3 24 3-9 3 17 3-30 3 37 3-12 3 2 3 41 3-20 3-8 3-12 3 13 3-11 3 26 3 2 3 36 3-22 3-10 3-9 3 36 3 11 3 3 3-20 3 22 3-11 3-3 3-17 3 12 3 21 3-13 3 49 3-48 3 34 3 3 3-5 3 3 3-29 3 26 3 8 3 0 3-10 3 0 3 32 3 21 3 15 3-13 3 9 3-23 3 13 3-5 3 40 3 9 3-46 3 25 3 14 3-22 3 9 3 45 3-61 3 35 3-35 3 26 3 18 3-19 3 19 3-20 3 21 3-3 3 42 3-47 3 45 3-27 3-15 3 41 3-36 3 51 3-22 3-12 3 32 3-23 3-4 3-3 3-13 3 36 3-15 3 31 3-19 3-14 3-1 3 36 3-14 3 11 3 20 3-25 3-1 3-17 3 0 3 71 3-42 3 10 3-16 3 21 3 6 3-13 3-6 3 47 3-43 3 18 3-1 3 4 3-11 3 9 3 12 3-3 3-12 3 9 3-5 3 11 3-22 3 41 3 13 3-19 3-7 3 20 3-31 3 17 3 1 3-9 3 19 3 0 3-18 3 3 3-12 3 29 3 9 3-25 3 47 3-31 3 5 3 19 3-26 3 22 3 6 3-8 3 21 3-17 3-6 3-37 3 70 3-24 3 25 3-15 3-1 3-48 3 1 3 60 3-29 3 11 3 32 3-49 3 10 3 26 3-20 3-11 3 17 3-24 3 19 3 9 3 13 3 13 3-14 3-7 3 26 3-39 3 10 3 11 3-18 3 27 3-26 3 48 3-46 3 33 3 10 3-24 3 12 3-35 3 32 3 20 3-41 3-5 3 20 3 13 3-26 3 7 3-5 3 9 3-22 3 64 3 4 3 3 3-37 3 10 3 1 3 19 3-25 3-3 3 25 3-12 3 30 3-61 3 40 3 0 3-3 3-31 3 5 3-2 3 4 3 30 3 17 3-37 3 19 3-23 3 22 3 6 3-10 3 8 3-23 3 17 3 19 3-32 3 33 3-17 3-13 3-5 3 51 3-24 3 4 3 12 3-19 3 16 3 22 3-35 3-15 3 4 3-12 3 39 3-16 3-25 3 9 3-8 3 25 3-2 3 3 3 0 3 28 3-25 3 7 3 5 3 25 3-4 3-18 3-6 3 14 3-18 3-7 3 3 3 11 3 29 3-8 3-31 3 14 3-16 3 34 3-4 3-11 3-13 3-16 3 66 3-27 3-2 3-22 3 4 3-7 3 17 3-6 3 11 3 1 3 12 3-18 3 23 3-11 3-4 3 26 3-5 3-7 3 8 3 11 3-15 3-4 3-7 3-16 3 2 3 25 3 12 3-23 3 4 3-7 3-7 3 36 3-19 3-13 3 43 3-51 3 17 3 10 3 35 3-25 3 8 3-25 3 31 3-27 3-1 3 14 3-4 3 8 3-3 3 33 3-26 3-36 3 42 3-8 3-3 3 4 3-16 3 14 3 11 3-12 3 7 3-4 3-4 3 13 3-29 3 25 3 8 3 8 3-35 3 18 3 25 3-13 3 2 3 3 3 25 3-58 3 28 3 8 3-9 3-15 3 23 3-20 3 3 3 6 3 14 3-8 3 20 3-7 3-10 3 10 3 8 3-7 3-1 3 0 3 2 3-9 3 17 3-27 3 12 3 4 3-6 3-10 3 22 3 22 3-35 3 39 3-35 3 23 3-2 3 2 3 2 3-13 3 6 3 23 3-14 3-2 3-6 3 5 3-7 3 1 3 7 3 2 3-20 3-2 3 31 3-27 3 22 3-27 3 34 3-17 3 0 3 11 3 17 3-1 3-19 3-14 3 46 3-22 3-32 3 38 3-1 3 2 3-11 3-25 3 25 3-2 3 14 3-17 3 16 3-29 3 26 3-15 3 30 3-5 3-5 3 9 3-5 3-21 3 6 3 28 3-15 3 5 3 6 3 15 3-20 3-7 3 18 3 20 3-8 3-49 3 46 3-6 3-1 3 2 3-7 3-13 3 7 3-13 3 35 3-11 3-7 3-3 3 16 3-25 3 16 3 8 3 9 3 3 3-12 3-2 3-8 3 17 3-27 3 13 3 17 3-23 3 6 3 15 3-6 3 27 3-27 3 13 3 4 3 7 3-12 3 0 3-13 3 0 3-16 3 18 3 3 3-10 3 32 3 12 3-22 3-23 3 16 3 5 3-19 3 3 3 5 3 17 3 8 3-26 3 22 3 2 3-30 3 41 3-34 3-14 3 49 3-30 3 7 3 11 3 8 3-7 3-14 3 10 3 4 3 17 3-9 3-30 3 14 3 11 3 10 3-7 3 2 3 13 3-23 3-1 3 9 3 6 3-3 3-7 3-5 3-4 3 28 3-31 3 0 3 18 3 7 3 0 3 2 3-12 3 10 3-13 3 11 3 5 3-6 3-9 3 4 3 26 3-24 3-24 3 31 3 9 3-4 3 0 3 4 3-15 3 20 3 14 3-34 3 4 3 20 3-7 3 9 3-21 3 29 3 1 3-29 3 8 3 1 3-2 3 25 3-19 3-17 3 3 3-7 3 26 3 2 3 4 3-26 3 0 3 42 3-32 3 17 3-2 3-15 3-8 3 8 3-4 3 1 3 19 3-11 3 8 3 12 3-23 3 27 3-42 3 51 3-15 3 0 3-24 3 21 3 2 3-10 3 11 3 2 3 13 3-16 3 11 3-24 3 2 3 6 3-13 3 36 3-17 3 5 3 2 3-10 3 12 3 13 3-19 3 8 3-14 3 13 3-5 3 6 3-6 3-15 3 3 3 20 3 14 3-18 3-21 3-3 3 41 3-39 3 41 3-22 3 0 3 29 3-15 3-18 3-1 3 16 3-1 3 2 3-8 3 11 3-13 3 9 3 1 3 10 3 8 3-10 3 12 3-35 3 33 3 3 3 3 3-25 3 0 3 29 3-33 3 32 3-16 3 17 3 1 3-14 3 2 3-22 3 1 3 30 3-30 3 28 3 4 3-30 3 26 3 5 3-1 3 1 3-20 3 11 3 4 3-2 3-25 3 20 3-4 3 11 3 4 3 2 3-14 3 6 3-8 3-2 3-12 3 24 3 14 3-26 3-1 3 19 3 13 3 7 3-18 3 2 3-7 3 15 3-21 3 14 3-5 3 5 3-11 3 1 3-2 3-16 3 36 3 13 3-16 3-12 3 11 3-23 3 13 3 21 3-18 3-15 3 29 3-18 3 8 3 17 3-26 3 13 3-3 3-18 3 10 3 2 3-13 3 31 3-24 3 20 3-18 3-4 3 11 3 22 3-33 3 24 3-3 3 0 3-8 3-2 3 30 3-8 3 2 3 1 3-18 3 4 3 1 3-1 3-13 3 5 3 30 3-11 3-15 3 11 3 14 3-29 3 13 3-8 3 24 3-4 3-15 3-3 3 16 3 0 3-5 3-8 3 10 3 1 3-4 3-16 3 43 3-41 3 22 3-6 3-8 3-10 3 27 3 4 3-17 3-14 3 10 3 28 3-10 3 8 3 12 3-22 3 2 3 2 3 1 3 5 3-4 3 1 3-29 3 25 3-2 3 21 3-12 3 10 3-34 3 6 3 13 3-7 3 2 3-6 3 14 3 3 3 12 3-33 3 11 3 7 3-10 3 4 3 19 3-13 3-7 3 6 3 3 3-7 3 30 3-34 3 18 3-8 3-9 3-1 3 21 3 8 3-11 3 4 3-17 3-7 3 24 3-8 3-3 3 9 3-25 3-2 3 15 3 21 3-7 3-1 3 3 3 8 3-4 3-4 3-1 3 16 3-30 3 33 3-10 3-25 3 18 3-18 3 6 3-15 3 15 3 16 3-26 3 10 3 18 3-1 3 10 3-40 3 18 3 16 3-14 3 22 3-29 3 8 3 3 3 23 3-7 3 7 3-25 3 21 3-11 3 16 3-9 3-1 3-16 3 6 3 16 3-39 3 24 3 11 3-27 3 24 3-9 3 7 3-3 3-5 3-20 3 19 3-11 3-1 3 29 3 9 3 1 3-40 3 22 3-11 3 4 3-12 3 33 3-21 3 12 3 0 3 10 3-20 3-2 3 4 3 21 3-23 3 9 3-20 3 30 3-26 3 27 3-13 3-12 3 8 3-1 3-5 3 6 3 1 3 5 3 5 3-22 3 4 3 1 3 25 3-31 3 19 3 15 3-34 3 8 3 16 3-10 3 6 3-3 3-11 3 29 3 0 3-27 3 2 3 14 3 7 3-9 3-21 3 19 3-14 3 17 3-13 3 16 3-6 3-18 3 12 3-8 3 22 3-27 3 14 3-6 3 3 3 3 3 12 3-9 3 11 3 3 3-4 3-18 3 20 3-9 3 10 3-24 3 4 3 14 3 8 3-5 3 4 3-20 3 12 3 12 3-8 3-7 3 12 3-17 3 12 3-26 3 30 3-18 3 2 3 3 3 27 3-19 3-1 3-4 3-17 3 2 3 16 3-6 3 26 3-22 3 10 3 3 3-28 3 11 3 15 3-7 3-13 3 31 3-29 3-6 3 29 3-16 3-2 3 5 3 2 3 3 3 11 3-12 3 2 3-9 3-7 3 14 3 0 3-3 3 2 3 21 3-2 3-10 3 1 3-8 3 23 3-26 3 8 3 0 3-6 3 10 3-21 3 17 3-10 3 12 3-2 3 9 3 1 3-21 3-7 3 10 3 20 3-7 3-13 3 14 3-14 3 12 3 2 3 1 3-5 3-7 3 14 3-29 3 29 3-10 3 5 3-8 3 12 3-16 3-4 3 4 3 3 3 13 3-22 3 31 3-8 3 8 3-29 3-3 3 6 3 1 3-1 3 1 3-9 3 2 3 27 3-6 3-6 3-2 3-10 3-5 3 17 3-1 3 11 3-10 3 15 3-10 3-10 3-6 3 0 3 5 3 10 3-3 3 9 3 3 3-11 3 4 3-14 3 13 3-4 3 19 3-16 3-4 3-7 3 9 3 14 3-26 3 13 3 2 3-2 3 12 3 0 3-6 3 0 3 13 3-29 3 12 3-17 3 22 3-3 3-5 3 2 3 23 3-23 3-3 3 17 3-23 3 8 3 3 3-7 3 21 3-8 3 0 3 10 3-29 3 20 3 6 3-9 3 3 3-18 3-3 3 4 3 4 3-1 3 8 3 10 3-17 3 29 3-21 3-2 3-2 3 0 3 13 3 10 3-25 3 3 3 15 3-20 3-8 3 22 3-4 3 3 3-23 3 0 3 35 3-17 3 2 3 7 3-14 3-3 3 5 3 2 3 3 3-13 3 17 3-11 3 5 3-6 3 7 3 12 3 11 3-11 3-5 3 17 3-18 3-14 3 13 3-17 3 23 3-19 3 32 3-16 3-13 3 18 3-8 3-8 3-13 3 20 3 10 3-25 3 27 3-20 3 17 3 4 3-24 3 3 3 11 3-22 3 26 3-2 3-17 3 11 3 18 3-27 3 8 3 17 3-6 3-1 3 11 3-31 3 15 3 8 3-1 3-19 3 28 3-22 3 8 3-6 3-3 3-10 3-3 3 6 3 10 3-13 3 10 3-5 3 22 3-6 3 11 3 0 3-22 3 9 3-7 3 15 3-11 3-10 3 15 3 12 3-27 3 24 3-10 3 7 3-6 3 10 3 3 3-19 3 20 3-15 3-2 3-8 3-4 3 34 3-30 3 0 3 4 3 7 3-6 3 9 3 6 3-4 3-6 3-9 3-1 3 4 3 23 3-12 3-7 3 23 3-22 3 7 3-5 3-2 3-1 3 18 3-3 3-23 3 17 3-11 3 8 3 10 3-8 3 0 3 15 3-24 3 13 3-11 3 3 3 7 3-5 3 3 3-9 3 4 3 3 3 1 3-14 3 26 3-19 3 18 3-28 3 24 3-22 3-2 3 26 3-9 3 2 3-10 3-7 3 11 3-17 3 17 3-3 3-1 3 14 3-13 3 7 3-11 3-7 3 17 3-21 3 40 3-19 3-13 3 13 3-8 3-9 3 9 3 3 3 7 3 1 3 7 3 0 3-8 3 7 3-14 3 8 3-2 3 1 3-10 3 13 3-12 3-6 3 26 3 2 3-30 3 29 3-31 3 14 3 7 3-19 3 4 3 16 3 2 3-4 3 10 3 8 3-16 3-21 3 19 3 7 3 4 3-19 3 11 3-13 3-8 3 26 3-10 3-1 3 4 3-2 3 0 3-20 3 40 3-12 3-16 3 23 3-7 3-6 3 18 3-21 3 3 3-13 3 22 3 1 3-11 3 11 3-7 3 9 3-29 3-3 3 6 3 25 3-7 3-16 3 23 3-1 3-17 3 9 3 8 3-12 3 9 3-9 3-2 3 15 3 1 3-7 3 4 3-16 3 4 3 21 3-37 3 16 3 7 3-9 3 2 3-1 3 13 3-7 3-6 3-4 3 7 3 5 3 3 3-9 3 23 3-15 3-9 3 12 3-18 3-9 3 15 3 0 3 0 3-15 3 31 3-12 3 12 3-9 3 9 3-8 3 14 3-15 3 2 3 7 3-22 3 0 3 19 3-27 3 5 3 13 3-15 3 27 3-19 3 6 3-2 3 3 3-1 3 5 3-15 3 33 3-15 3 0 3 1 3 1 3-15 3 5 3 21 3-21 3 2 3 15 3-12 3 10 3-20 3 22 3-8 3 13 3-23 3 0 3-3 3 12 3 11 3-16 3 7 3-12 3 4 3 16 3-13 3 13 3-15 3 4 3 7 3-11 3-8 3 4 3 12 3-20 3 11 3 3 3-9 3 23 3-6 3-14 3-1 3 18 3-22 3 24 3-11 3 2 3 9 3-17 3 16 3-22 3 2 3 23 3-15 3 16 3-17 3-12 3 19 3-1 3-20 3 13 3-3 3 15 3-16 3 22 3-9 3-6 3 2 3-3 3 2 3 11 3-15 3 3 3 5 3 1 3 7 3-9 3 5 3-2 3-17 3 10 3-12 3 16 3 2 3-15 3 19 3-11 3 15 3-17 3 2 3 9 3-10 3 2 3 11 3-17 3 17 3-5 3 13 3-26 3 24 3-29 3 23 3 5 3 0 3-13 3-4 3 26 3-19 3 0 3 6 3-19 3 20 3-9 3 4 3-14 3 3 3 12 3-1 3-4 3 0 3-16 3 38 3-13 3-16 3 12 3 1 3 15 3-22 3 2 3-6 3 23 3-20 3 4 3 2 3-3 3-4 3 12 3 1 3-8 3-10 3 19 3-3 3 12 3-14 3-19 3 23 3 0 3-13 3-3 3 20 3-7 3-5 3 0 3-8 3 31 3-22 3 22 3-19 3 18 3-2 3-34 3 24 3-6 3 5 3-18 3 24 3 4 3-15 3 17 3-10 3-10 3 21 3 0 3-8 3-17 3 12 3-3 3 9 3-19 3 8 3 7 3-5 3-9 3 5 3 13 3-11 3 2 3 4 3-6 3 9 3-22 3 10 3 7 3-16 3 14 3-6 3 12 3 16 3-21 3 3 3 14 3-21 3-7 3 16 3-13 3 13 3-10 3 8 3-14 3 16 3 1 3-6 3-2 3-4 3 8 3 9 3 0 3 6 3-27 3 16 3-3 3-5 3-3 3-7 3 0 3 37 3-22 3 6 3-18 3 12 3 6 3 12 3-23 3 17 3 7 3-4 3-9 3-6 3 10 3-3 3-10 3 4 3 3 3 8 3 4 3-14 3 15 3 3 3-19 3 15 3-12 3 19 3-19 3-5 3 15 3-14 3 17 3-20 3-5 3 24 3 0 3-13 3-7 3 9 3-5 3-10 3 1 3 10 3 15 3 11 3-19 3 18 3-15 3 2 3-1 3-2 3 10 3-1 3-22 3 18 3-6 3 12 3-13 3 0 3 9 3-2 3 2 3-3 3-8 3 6 3 8 3-16 3-10 3 20 3-14 3 4 3 2 3 18 3-14 3 1 3-5 3 13 3-3 3-3 3 2 3-9 3 3 3 7 3-20 3 19 3 0 3-3 3 0 3 6 3-3 3-3 3 8 3-4 3-4 3 11 3-6 3-9 3 1 3 24 3-4 3-15 3 1 3 6 3 10 3 2 3-21 3 9 3-12 3 10 3-6 3 3 3 0 3-10 3 10 3 12 3-19 3-3 3-2 3 19 3-14 3 15 3 1 3-12 3 15 3-13 3 1 3 18 3-20 3-1 3 5 3 0 3-16 3 19 3 6 3 3 3-18 3 10 3 10 3 6 3-2 3-9 3-7 3 1 3-3 3-9 3 18 3-11 3 10 3-3 3-1 3 5 3-6 3 2 3-7 3-7 3 4 3 17 3-1 3-7 3 13 3-6 3-3 3-18 3 5 3 9 3-5 3 9 3 3 3-14 3 12 3-14 3 6 3 22 3 0 3-9 3-9 3 8 3-7 3-4 3 6 3 2 3-8 3 5 3-7 3 13 3-11 3 5 3 10 3-11 3 3 3 8 3-13 3-1 3 6 3-5 3 14 3-15 3 7 3-17 3 23 3 2 3-9 3 2 3 0 3-2 3 0 3-2 3 2 3 2 3 0 3 9 3-21 3 23 3 5 3-13 3-2 3-17 3 23 3-4 3 3 3 2 3-17 3 6 3 4 3-3 3-6 3 18 3-17 3 11 3-7 3 2 3-6 3-5 3 14 3 1 3 5 3-17 3 21 3-25 3 24 3-11 3 13 3-5 3 3 3-16 3 12 3-2 3 5 3-3 3 4 3-14 3 11 3-7 3-3 3 20 3-18 3 1 3 9 3 0 3-6 3 3 3-2 3-1 3-9 3 3 3 12 3-19 3-1 3 14 3 4 3 5 3-8 3 12 3-14 3 4 3 7 3-10 3 4 3-4 3-8 3 15 3 0 3-9 3 2 3-9 3 26 3-28 3 13 3 10 3-12 3-4 3 21 3-16 3-4 3 11 3-12 3 20 3 1 3 3 3 2 3-6 3-14 3-4"/>
<path class="c" stroke="#000" stroke-width="13" d="M159.5 1618.4l0.5-0.3 0.5 0.2 0.5 0.4 0.5 0 0.5 0 0.5-0.1 0.5-0.1 0.5 0.5 0.5-0.1 0.5 0.5 0.5-0.1 0.5-0.1 0.5 0.4 0.5 0.2 0.5 0 0.5-0.2 0.5 0.5 0.5 0.1 0.5 0.3 0.5 0.1 0.5-0.3 0.5 0.2 0.5 0.5 0.5-0.6 0.5 0.9 0.5-0.4 0.5 0.3 0.5 0.7 0.5-0.3 0.5 0 0.5 0.3 0.5 0.1 0.5-0.1 0.5 0.4 0.5 0.7 0.5-0.3 0.5 0 0.5 0.1 0.5 0.2 0.5 0.1 0.5-0.4 0.5 0.5 0.5 0 0.5 0.6 0.5-0.5 0.5 0.5 0.5-0.6 0.5 0.6 0.5-0.3 0.5 0.1 0.5 0.6 0.5-0.5 0.5 0.4 0.5-0.1 0.5 0.4 0.5 0.1 0.5-0.7 0.5 1 0.5-0.4 0.5 0.9 0.5-0.2 0.5 0.1 0.5-1 0.5 1.4 0.5-0.5 0.5-0.3 0.5 0.5 0.5 0.4 0.5-0.8 0.5 0.9 0.5-0.4 0.5 0 0.5 0.1 0.5-0.1 0.5 0.4 0.5 0.1 0.5 0.2 0.5 0.2 0.5-0.5 0.5 0.5 0.5-0.6 0.5 0.5 0.5-0.4 0.5 0.1 0.5 0.4 0.5-0.3 0.5 0.4 0.5-0.6 0.5 0.3 0.5 0.4 0.5 0.3 0.5-0.7 0.5 0.8 0.5-0.4 0.5 0.6 0.5-0.7 0.5 0 0.5 0.3 0.5-0.4 0.5 0.4 0.5-0.1 0.5 0.5 0.5-0.3 0.5-0.4 0.5 0 0.5 0.1 0.5-0.3 0.5 0 0.5 1.3 0.5-0.9 0.5 0.7 0.5-0.6 0.5 0.1 0.5-0.4 0.5 0.9 0.5-0.5 0.5 0.7 0.5-0.7 0.5 0.6 0.5 0 0.5-0.8 0.5 0.5 0.5-0.4 0.5-0.1 0.5 0.1 0.5-0.2 0.5-0.5 0.5-1.4 0.5-0.6 0.5-1.4 0.5-1.6 0.5-2 0.5-1.7 0.5-1.2 0.5-3.8 0.5-5.7 0.5-13.4 0.5-14.9 0.5-15.3 0.5-18 0.5-14.3 0.5-9.4 0.5-3.8 0.5 3.6 0.5 9.4 0.5 14.5 0.5 17.3 0.5 15.8 0.5 15.1 0.5 13 0.5 6 0.5 2.6 0.5 2.1 0.5 2.3 0.5 2.3 0.5 0.8 0.5 1.1 0.5 1.5 0.5 0.6 0.5 0.7 0.5 0.5 0.5 0.3 0.5-0.2 0.5 0.1 0.5 0.4 0.5-0.4 0.5 0.1 0.5 0.1 0.5 0.1 0.5-0.2 0.5 0.3 0.5-0.2 0.5-0.4 0.5 0.6 0.5-0.4 0.5 1.2 0.5-0.9 0.5-0.1 0.5 0.3 0.5 0.2 0.5 0.1 0.5-0.4 0.5 0.2 0.5-0.1 0.5-0.1 0.5-0.5 0.5 0.5 0.5-0.8 0.5 0.5 0.5 0.7 0.5-0.4 0.5 0 0.5-0.3 0.5 0 0.5 0.1 0.5-0.2 0.5-0.3 0.5 1 0.5 0.2 0.5-0.6 0.5 0.4 0.5-0.6 0.5 0.5 0.5-0.5 0.5 0.6 0.5-0.2 0.5-0.4 0.5 0.6 0.5 0.3 0.5-0.5 0.5 0 0.5 0 0.5 0 0.5 0.4 0.5 0 0.5-1 0.5 1 0.5-0.4 0.5 0.5 0.5-0.3 0.5 0.1 0.5-0.4 0.5-0.3 0.5 0.5 0.5 0.2 0.5 0 0.5 0 0.5-0.2 0.5 0.2 0.5-0.5 0.5 0.2 0.5-0.4 0.5 0.5 0.5-0.1 0.5 0.1 0.5 0.3 0.5-0.3 0.5-0.9 0.5 1.3 0.5-0.4 0.5 0.2 0.5-0.5 0.5 0.5 0.5 0.2 0.5-0.9 0.5 0.9 0.5-0.7 0.5 0.1 0.5 0.2 0.5 0.6 0.5-1.2 0.5 0.4 0.5 0.2 0.5 0.2 0.5-0.2 0.5 0.1 0.5-0.4 0.5 0.5 0.5 0.1 0.5-0.6 0.5 0.1 0.5 0.3 0.5 0 0.5 0.1 0.5-0.6 0.5 0.2 0.5-0.1 0.5 0.3 0.5-0.8 0.5-0.6 0.5-0.7 0.5-0.5 0.5-0.5 0.5-1.8 0.5-0.7 0.5-1.1 0.5-1.1 0.5-2 0.5-1.6 0.5-2.4 0.5-4.7 0.5-11.9 0.5-15.2 0.5-14.7 0.5-17.6 0.5-15.6 0.5-8.6 0.5-6.9 0.5 3.3 0.5 9.4 0.5 13.9 0.5 16.4 0.5 13.9 0.5 14 0.5 8.5 0.5 4.5 0.5 3 0.5 3.1 0.5 1.3 0.5-0.7 0.5-6.5 0.5-9.8 0.5-13.9 0.5-18.3 0.5-21.6 0.5-44.6 0.5-59.1 0.5-59.8 0.5-70.1 0.5-67.8 0.5-41.7 0.5-28.2 0.5 5.8 0.5 35.2 0.5 62.1 0.5 77.2 0.5 60.4 0.5 57.4 0.5 45.3 0.5 42.4 0.5 10.4 0.5-2.2 0.5-2.7 0.5-4.4 0.5-5.4 0.5-10.1 0.5-14.1 0.5-14.4 0.5-15.4 0.5-11.5 0.5-6.9 0.5 2.1 0.5 12.6 0.5 21 0.5 27 0.5 22.9 0.5 23 0.5 15.8 0.5 6 0.5 5.9 0.5 3.3 0.5 3.1 0.5 2.3 0.5 0.3 0.5-0.1 0.5-0.4 0.5 0.1 0.5-1 0.5-0.1 0.5-0.7 0.5-0.9 0.5 0.3 0.5-1.2 0.5-0.8 0.5 0.1 0.5-0.8 0.5 0.9 0.5 0.7 0.5 0 0.5 2 0.5 0.9 0.5 1.3 0.5 0.8 0.5 0.5 0.5 0.3 0.5 0.4 0.5 0.4 0.5 0.7 0.5 0 0.5 0 0.5 0.4 0.5-0.9 0.5 0.3 0.5 0 0.5 0.5 0.5-0.5 0.5 0.4 0.5 0.6 0.5-0.1 0.5 0.2 0.5-0.6 0.5-0.1 0.5 0.4 0.5-0.4 0.5 0.1 0.5-0.4 0.5-0.6 0.5-0.8 0.5-1.5 0.5-1.9 0.5-2.5 0.5-2.2 0.5-3.2 0.5-3.5 0.5-3.9 0.5-4 0.5-12.9 0.5-21.7 0.5-23.8 0.5-24 0.5-27.6 0.5-20.3 0.5-13.5 0.5-6.6 0.5 6.7 0.5 12.8 0.5 21.1 0.5 27.5 0.5 23.4 0.5 23.7 0.5 21.7 0.5 13.3 0.5 4.8 0.5 3.4 0.5 3.4 0.5 1.7 0.5 3.5 0.5 2 0.5 1.9 0.5 1.3 0.5 0.9 0.5 1.1 0.5 0.2 0.5 0.2 0.5-0.2 0.5 0.2 0.5 0.2 0.5 0.1 0.5-0.3 0.5 0 0.5-0.1 0.5 0.4 0.5-0.4 0.5 0 0.5 0.1 0.5-0.2 0.5 0.3 0.5 0.4 0.5-0.5 0.5 0.4 0.5-0.2 0.5-0.2 0.5 0.1 0.5 0.3 0.5-0.7 0.5 0.4 0.5 0.2 0.5-0.6 0.5 0.6 0.5-0.2 0.5-0.5 0.5 0.4 0.5-0.6 0.5 0.1 0.5-0.1 0.5 0.5 0.5-0.2 0.5-0.2 0.5 0.1 0.5 0.1 0.5-0.1 0.5 0 0.5 0.2 0.5-0.4 0.5 0.1 0.5 0.5 0.5-0.2 0.5-0.7 0.5 1 0.5-0.7 0.5 0.7 0.5-0.5 0.5 0.3 0.5-0.9 0.5 0.3 0.5 0.1 0.5 0 0.5-0.1 0.5 0 0.5 0.2 0.5-0.2 0.5 0.1 0.5 0.2 0.5-0.7 0.5 0.5 0.5-0.2 0.5 0.2 0.5 0.2 0.5-0.6 0.5 0.3 0.5 0.4 0.5 0 0.5-0.5 0.5 0.5 0.5-0.2 0.5-0.1 0.5-0.2 0.5 0.2 0.5 0.2 0.5-0.5 0.5 0.4 0.5-0.5 0.5 0 0.5 0.5 0.5-0.3 0.5-0.1 0.5 0.3 0.5 0.1 0.5-0.2 0.5 0.4 0.5-0.6 0.5 0 0.5 0.4 0.5-0.6 0.5 0.5 0.5-0.7 0.5 0.2 0.5 0.3 0.5-0.1 0.5 0.6 0.5-0.8 0.5 0.3 0.5 0 0.5-0.1 0.5 0.4 0.5-0.5 0.5 0 0.5-0.2 0.5 0.6 0.5-0.2 0.5 0 0.5 0 0.5-0.4 0.5 0.4 0.5 0 0.5 0.3 0.5-0.3 0.5-0.4 0.5 0.2 0.5 0.6 0.5-0.9 0.5-0.1 0.5 0.5 0.5 0.3 0.5-0.4 0.5-0.4 0.5 1 0.5-0.9 0.5 0.5 0.5 0.2 0.5-0.4 0.5 0.1 0.5 0.3 0.5-0.9 0.5 0.6 0.5 0.1 0.5 0 0.5-0.5 0.5 0.3 0.5-0.3 0.5-0.1 0.5-0.1 0.5 0.5 0.5-0.2 0.5 0.3 0.5-1.1 0.5 0.5 0.5 0.3 0.5 0.4 0.5-0.7 0.5-0.3 0.5 0.3 0.5 0.1 0.5 0.3 0.5 0.1 0.5-0.2 0.5-0.2 0.5 0.6 0.5-0.9 0.5 0.2 0.5 0.2 0.5-0.4 0.5 0.1 0.5 0.2 0.5-0.4 0.5 0.1 0.5 0 0.5 0.7 0.5-0.4 0.5-0.5 0.5 0.4 0.5-0.6 0.5 0.4 0.5-0.7 0.5 0.7 0.5-0.3 0.5-0.4 0.5 0.5 0.5 0 0.5-0.1 0.5-0.2 0.5-0.5 0.5 0.6 0.5-0.9 0.5 0.4 0.5 0.7 0.5-1.1 0.5-0.2 0.5 0.2 0.5 0.3 0.5-0.2 0.5 0.3 0.5-0.4 0.5-0.4 0.5 0.5 0.5-0.5 0.5 0.3 0.5 0.1 0.5-0.3 0.5 0.2 0.5-0.9 0.5 0.2 0.5 0.1 0.5-0.5 0.5 0.6 0.5-0.1 0.5-0.3 0.5 0 0.5-0.3 0.5-0.4 0.5 0 0.5 0 0.5 0.1 0.5-0.2 0.5 0 0.5-0.6 0.5 0.1 0.5 0.2 0.5 0.1 0.5-0.8 0.5 0.4 0.5 0 0.5-0.3 0.5-0.1 0.5-0.4 0.5 0 0.5-0.3 0.5-0.6 0.5 0.6 0.5-0.5 0.5-0.5 0.5 0.3 0.5-0.7 0.5 0 0.5-1 0.5 0.1 0.5 0.2 0.5-0.1 0.5-0.1 0.5-0.4 0.5-0.1 0.5-1 0.5-0.4 0.5-0.5 0.5 0.5 0.5-0.2 0.5 0.3 0.5-0.6 0.5 0.4 0.5-1 0.5 0.9 0.5-0.6 0.5 0.4 0.5-0.1 0.5-0.5 0.5 0.6 0.5-0.4 0.5 0.5 0.5 0 0.5 0.1 0.5-0.1 0.5 0.1 0.5 0.1 0.5-0.6 0.5 1.1 0.5-0.3 0.5 0.2 0.5-0.3 0.5 0.3 0.5-0.3 0.5 0.3 0.5-1.4 0.5 0 0.5-1.5 0.5-0.9 0.5-1.6 0.5-1.9 0.5-2.3 0.5-1.3 0.5-3.2 0.5-2.7 0.5-8.6 0.5-13.8 0.5-15 0.5-15.7 0.5-16.6 0.5-13.7 0.5-8.7 0.5-4.6 0.5 2.5 0.5 8.6 0.5 13.4 0.5 18 0.5 16.6 0.5 16.4 0.5 15.3 0.5 7.2 0.5 2 0.5 1.7 0.5 1.6 0.5 1.8 0.5 1 0.5 1.1 0.5 1 0.5 1.3 0.5-0.1 0.5 1.7 0.5 0 0.5 0.9 0.5 0.2 0.5 0.5 0.5 0.2 0.5-0.8 0.5 0.9 0.5 0.2 0.5-0.2 0.5-0.2 0.5 0.6 0.5-0.7 0.5 0.1 0.5 0 0.5-1.1 0.5-0.2 0.5-0.4 0.5-1.6 0.5-1.4 0.5-1.8 0.5-0.5 0.5-2.1 0.5-1.7 0.5-0.3 0.5-1.1 0.5-0.2 0.5 0 0.5 0.8 0.5 0.6 0.5 0.5 0.5 1 0.5 1.1 0.5 0.3 0.5 0.4 0.5 1 0.5-0.1 0.5 0.4 0.5-0.7 0.5-0.9 0.5-1.4 0.5-1.9 0.5-2.5 0.5-3.6 0.5-3.7 0.5-10 0.5-13.7 0.5-14.6 0.5-16.3 0.5-15.6 0.5-9.2 0.5-4.9 0.5 0.2 0.5 3.5 0.5 4.4 0.5 6 0.5 7.4 0.5 5.9 0.5 4.9 0.5 4.9 0.5 4.2 0.5 1.1 0.5 1.7 0.5 1.4 0.5 0.2 0.5-6.4 0.5-14.5 0.5-15.5 0.5-16.5 0.5-19.3 0.5-21.1 0.5-22.1 0.5-25.1 0.5-28.2 0.5-24.4 0.5-16.8 0.5-12.9 0.5-7.2 0.5 35.5 0.5 59.7 0.5 33.8 0.5 28.6 0.5 25.4 0.5 23.1 0.5 14.4 0.5 4.9 0.5 4.9 0.5 2.9 0.5 2.1 0.5 2.6 0.5 0.6 0.5 1.4 0.5 1.1 0.5 1.9 0.5 7.6 0.5 12.8 0.5 13.5 0.5 7.1 0.5-0.1 0.5 0.7 0.5-1.7 0.5-1.2 0.5-1 0.5-0.9 0.5-2 0.5-3.1 0.5-5 0.5-5.9 0.5-5.5 0.5-6.2 0.5-6.9 0.5-4.2 0.5-3.9 0.5 0.2 0.5 2.2 0.5 2.7 0.5 5.6 0.5 6.4 0.5 6.7 0.5 5.5 0.5 4.6 0.5 5.4 0.5 3.1 0.5 2.1 0.5 1.7 0.5 1.3 0.5-0.1 0.5 0.3 0.5-0.4 0.5-0.1 0.5 0.1 0.5-0.3 0.5-0.5 0.5-0.5 0.5-0.4 0.5-0.4 0.5-0.4 0.5-0.4 0.5-0.1 0.5-1 0.5-1 0.5-2.6 0.5-1.7 0.5-3.3 0.5-2.4 0.5-3 0.5-3.6 0.5-2.8 0.5-3.1 0.5-1.4 0.5-0.7 0.5-1.3 0.5 0.8 0.5 0.7 0.5 1 0.5 2.4 0.5 1.1 0.5 1.7 0.5 1.6 0.5 0.1 0.5 1.5 0.5 1.2 0.5 0.2 0.5-0.8 0.5-3.1 0.5-4 0.5-4.8 0.5-7.5 0.5-8.4 0.5-8.6 0.5-9.6 0.5-9.7 0.5-5 0.5-4.6 0.5 0.4 0.5 4.5 0.5 7.8 0.5 10 0.5 10.7 0.5 8.3 0.5 9.4 0.5 6.3 0.5 5 0.5 3.7 0.5 3.2 0.5 0.5 0.5 0 0.5-0.4 0.5-0.6 0.5-0.7 0.5-0.9 0.5-1.6 0.5-2.4 0.5-2 0.5-2.3 0.5-2.4 0.5-1.8 0.5-0.9 0.5-0.4 0.5 1.4 0.5 2.3 0.5 3.4 0.5 2.3 0.5 1.8 0.5 2 0.5 0.5 0.5-0.5 0.5-0.5 0.5 0.1 0.5-0.2 0.5 0.1 0.5 2 0.5 2.7 0.5 5.4 0.5 4.5 0.5 4 0.5 2.8 0.5 1.5 0.5 0.5 0.5 0.7 0.5 0.8 0.5 0.4 0.5-0.1 0.5 0.3 0.5 0.3 0.5-0.5 0.5 0 0.5-0.1 0.5 0 0.5-0.6 0.5-0.3 0.5-0.1 0.5-1 0.5-0.5 0.5-0.8 0.5 0 0.5-1.1 0.5-0.8 0.5-1.2 0.5-1.3 0.5-3.6 0.5-4.3 0.5-4.8 0.5-4.4 0.5-4.7 0.5-6.3 0.5-4.1 0.5-3.1 0.5-2.3 0.5-0.8 0.5 1.2 0.5 2.2 0.5 3 0.5 4.7 0.5 5.4 0.5 5.2 0.5 4.6 0.5 4.7 0.5 3.8 0.5 4.3 0.5 2.2 0.5 1.7 0.5 1.1 0.5 0.6 0.5 1.1 0.5 1 0.5 0.3 0.5 1.3 0.5 0 0.5 1.4 0.5 0.2 0.5 0.7 0.5 0 0.5 0.8 0.5 0.4 0.5 0.9 0.5 0.6 0.5 0.2 0.5-1 0.5 0.8 0.5-0.3 0.5 0.3 0.5-0.2 0.5-0.4 0.5 0 0.5 0.3 0.5-0.4 0.5-0.4 0.5-0.1 0.5-0.7 0.5 0.1 0.5-1.1 0.5-0.8 0.5-2.4 0.5-0.8 0.5-1.8 0.5-2 0.5-1.4 0.5-0.7 0.5-0.6 0.5-0.7 0.5 0.2 0.5 0.2 0.5 0.4 0.5 1.3 0.5 0.1 0.5 0.7 0.5-0.2 0.5 0.6 0.5 0.1 0.5 0.5 0.5-0.7 0.5-0.8 0.5-1.7 0.5-1.6 0.5-1.8 0.5-1.6 0.5-1.4 0.5-2.5 0.5-2 0.5-1.6 0.5-1 0.5-1.5 0.5 0.2 0.5 0.8 0.5 2.1 0.5 2.4 0.5 3.5 0.5 3.1 0.5 3.2 0.5 2.6 0.5 3.5 0.5 2 0.5 1.2 0.5 1.1 0.5 0.8 0.5 0.3 0.5 0.7 0.5 0.5 0.5 0.1 0.5 0 0.5 0.1 0.5 0.4 0.5-0.2 0.5-0.5 0.5 0 0.5 0.1 0.5-0.4 0.5-0.6 0.5-0.4 0.5 0 0.5 0 0.5-0.9 0.5-0.9 0.5-1.5 0.5-1.4 0.5-3 0.5-1.6 0.5-2.1 0.5-2.7 0.5-1.3 0.5-2 0.5-1.1 0.5-0.4 0.5 0 0.5 0.4 0.5 1.8 0.5 1.5 0.5 2.3 0.5 2.8 0.5 1.4 0.5 2.2 0.5 1.9 0.5 1.7 0.5 1.5 0.5-0.2 0.5 0.7 0.5 0.8 0.5 0.1 0.5 0.1 0.5 0.4 0.5 0.6 0.5-0.7 0.5 0.9 0.5 0 0.5-0.5 0.5 0.1 0.5 0 0.5-0.3 0.5 0.2 0.5-0.8 0.5 0.1 0.5 0.2 0.5 0 0.5 0.3 0.5-0.1 0.5 0.2 0.5-0.3 0.5 0 0.5 0.1 0.5-0.4 0.5-0.1 0.5 0 0.5-0.3 0.5 0.2 0.5 0 0.5-0.3 0.5 0 0.5 0 0.5 0.3 0.5-0.2 0.5-1 0.5 0.1 0.5-0.7 0.5-0.8 0.5-0.2 0.5-0.7 0.5-0.5 0.5-0.7 0.5 0.2 0.5-0.8 0.5 0.1 0.5 0.2 0.5 0.4 0.5-0.3 0.5 0.3 0.5 0.6 0.5 0.1 0.5 0.7 0.5-0.7 0.5 1.1 0.5-0.1 0.5 0.5 0.5 0.5 0.5-0.2 0.5-0.4 0.5-0.2 0.5-0.6 0.5-0.3 0.5-0.7 0.5-0.7 0.5-0.8 0.5-0.2 0.5-0.9 0.5-0.7 0.5-0.4 0.5 0.3 0.5-0.1 0.5 0.9 0.5 0.9 0.5 1.6 0.5 0.5 0.5 1.7 0.5 0.3 0.5 1.4 0.5 1.3 0.5 1.1 0.5 0.3 0.5 1.3 0.5 0.2 0.5 0.2 0.5 0.4 0.5-0.1 0.5 0.6 0.5 0 0.5-0.1 0.5 0.3 0.5-0.5 0.5 0.2 0.5 0 0.5 0.2 0.5-0.2 0.5 0.1 0.5-0.4 0.5 0 0.5 0.4 0.5-0.2 0.5-0.2 0.5 0.2 0.5 0 0.5 0.1 0.5-0.2 0.5-0.4 0.5 0.2 0.5 0.2 0.5-0.3 0.5-0.5 0.5 0.4 0.5-0.7 0.5-0.1 0.5-0.6 0.5 0.3 0.5-0.2 0.5-0.3 0.5 0 0.5-0.3 0.5 0.3 0.5-0.2 0.5 0.5 0.5 0.1 0.5 0.1 0.5 0.4 0.5 0.3 0.5 0.2 0.5-0.1 0.5 1.2 0.5 0.4 0.5-0.3 0.5 0 0.5 0.4 0.5-0.4 0.5 0.6 0.5 0.3 0.5-0.2 0.5 0 0.5-0.6 0.5 0.5 0.5-0.3 0.5 0.9 0.5-0.5 0.5 0 0.5 0.2 0.5 0.2 0.5-0.1 0.5-0.4 0.5 0.3 0.5 0.1 0.5-0.3 0.5 0.3 0.5-0.4 0.5 0.3 0.5 0.2 0.5-0.2 0.5-0.4 0.5 0.3 0.5 0.1 0.5-0.1 0.5-0.5 0.5 0.3 0.5-0.1 0.5 0.9 0.5-0.8 0.5-0.3 0.5 0.4 0.5-0.6 0.5-0.2 0.5 0.2 0.5-0.4 0.5-0.5 0.5-0.6 0.5-1 0.5 0.6 0.5-0.6 0.5 0.4 0.5-0.1 0.5-0.9 0.5 0 0.5 0.3 0.5 0.2 0.5 0.4 0.5-0.5 0.5 0 0.5 0.8 0.5 0.2 0.5 0.4 0.5 0.6 0.5-0.3 0.5 0.7 0.5-0.2 0.5 0.4 0.5 0.2 0.5-0.2 0.5-0.3 0.5 0.2 0.5 0.3 0.5-0.4 0.5 0.1 0.5 0.2 0.5-0.1 0.5 0.4 0.5 0 0.5-1 0.5 0.8 0.5-0.4 0.5 0 0.5 0.4 0.5-0.5 0.5-0.3 0.5-0.3 0.5 0.1 0.5 0 0.5-0.1 0.5-0.5 0.5 0.6 0.5-0.7 0.5 0.5 0.5-0.6 0.5 0.5 0.5 0.1 0.5-0.6 0.5 0.3 0.5 0.2 0.5 0.5 0.5-0.2 0.5 0.1 0.5 1.4 0.5-0.5 0.5 0.3 0.5-0.1 0.5 0.2 0.5 0.2 0.5-0.1 0.5-0.1 0.5 0 0.5 0.5 0.5-0.5 0.5 0.4 0.5-0.2 0.5 0 0.5 0.3 0.5-0.4 0.5-0.5 0.5 0.8 0.5-0.2 0.5-0.1 0.5 0.1 0.5-0.5 0.5 0.2 0.5-0.6 0.5 0.5 0.5-1.3 0.5 0.1 0.5-0.3 0.5-0.9 0.5-0.7 0.5-0.7 0.5-1.5 0.5-0.5 0.5-0.8 0.5-1.8 0.5-1.1 0.5-1.2 0.5-0.5 0.5-0.5 0.5-0.7 0.5-0.2 0.5 0.3 0.5 0.5 0.5 0.1 0.5 0.9 0.5 0.9 0.5 0.9 0.5 1.7 0.5 1.2 0.5 0.9 0.5 0.7 0.5 1.6 0.5 0.8 0.5 0.2 0.5 0.5 0.5 0.6 0.5-0.1 0.5 0.7 0.5 0.3 0.5-0.3 0.5 0.2 0.5 0.1 0.5 0.5 0.5 0 0.5-0.5 0.5-0.1 0.5 0.2 0.5 0.1 0.5-0.2 0.5 0.5 0.5-0.2 0.5 0.2 0.5 0 0.5-0.5 0.5 0.8 0.5-0.1 0.5-0.5 0.5-0.2 0.5 0 0.5 0.3 0.5-0.3 0.5 0.2 0.5 0.5 0.5-0.6 0.5-0.1 0.5 0.2 0.5 0 0.5-0.5 0.5-0.2 0.5 0.4 0.5 0 0.5-0.1 0.5 0.2 0.5 0.1 0.5-0.5 0.5 0.5 0.5-0.5 0.5 0.2 0.5 0.1 0.5 0.1 0.5 0.1 0.5-0.3 0.5-0.1 0.5 0.1 0.5-0.1 0.5-0.3 0.5 0.1 0.5-0.2 0.5 0.1 0.5-0.6 0.5 0 0.5-0.4 0.5 0.7 0.5-0.6 0.5-0.1 0.5-0.9 0.5 0.5 0.5-0.4 0.5 0 0.5-0.2 0.5-0.7 0.5-0.4 0.5-0.2 0.5-0.4 0.5-0.2 0.5-0.1 0.5 0 0.5-0.3 0.5 0.1 0.5 0.8 0.5-0.5 0.5 0.2 0.5 0.5 0.5-0.1 0.5 0.5 0.5 0.1 0.5 0.7 0.5 0.1 0.5 0 0.5 1 0.5 0.4 0.5 0.1 0.5 0.8 0.5-0.8 0.5 0.1 0.5 0.6 0.5 0.3 0.5-0.2 0.5 0 0.5-0.2 0.5 1 0.5-0.7 0.5 0.4 0.5-0.1 0.5-0.4 0.5 0.7 0.5-0.4 0.5 0.3 0.5 0 0.5-0.2 0.5 0.6 0.5-0.1 0.5-0.4 0.5 0.2 0.5 0.1 0.5 0.2 0.5-0.7 0.5 0.7 0.5-0.9 0.5-0.1 0.5 0.6 0.5-0.5 0.5 0.7 0.5-1.1 0.5 0.6 0.5 0.1 0.5-0.7 0.5 0.8 0.5-0.8 0.5 0.5 0.5-0.1 0.5 0 0.5 0.1 0.5-0.1 0.5-0.6 0.5-0.3 0.5 0.1 0.5-0.8 0.5 0.6 0.5-0.7 0.5 0.5 0.5-0.8 0.5-0.7 0.5-0.4 0.5 0.5 0.5-1.6 0.5 0.7 0.5 0.7 0.5-0.8 0.5 0.2 0.5-0.2 0.5 0.2 0.5-0.3 0.5 0.4 0.5 0.5 0.5-0.2 0.5 0.2 0.5 0.5 0.5 0.1 0.5-0.1 0.5-0.2 0.5 0 0.5 0.5 0.5 0.1 0.5 0.6 0.5 0.5 0.5-0.3 0.5-0.7 0.5 0.1 0.5-0.5 0.5 0.5 0.5-0.1 0.5 0.1 0.5-0.7 0.5 0.2 0.5-0.3 0.5 0 0.5-1 0.5 0.5 0.5-0.8 0.5-0.3 0.5-0.8 0.5-0.1 0.5-0.2 0.5-0.4 0.5 0 0.5-0.6 0.5 0.3 0.5-0.3 0.5-0.1 0.5 0.3 0.5 0.6 0.5 0.5 0.5 0.2 0.5 0.8 0.5 0 0.5 0.2 0.5 0.1 0.5 0.6 0.5 0.1 0.5-0.4 0.5 0.7 0.5 0.1 0.5 0.1 0.5 0.9 0.5-0.6 0.5 0.2 0.5-0.1 0.5-0.3 0.5 0.3 0.5 0 0.5-0.1 0.5-0.3 0.5 0.2 0.5-0.3 0.5-0.4 0.5-0.1 0.5 0 0.5-0.2 0.5-0.6 0.5-0.3 0.5-0.2 0.5-0.2 0.5 0.3 0.5-0.7 0.5-1.5 0.5-0.9 0.5-1.9 0.5-2 0.5-2.5 0.5-1.8 0.5-3.4 0.5-1.6 0.5-2.4 0.5-1.2 0.5-0.8 0.5-0.4 0.5 0.7 0.5 1.8 0.5 1.6 0.5 2.9 0.5 2.6 0.5 2.2 0.5 2.6 0.5 1.9 0.5 2 0.5 2.1 0.5 0.9 0.5 0.6 0.5 1.2 0.5 0.2 0.5 0.2 0.5 0.5 0.5 0.5 0.5-0.5 0.5 0.8 0.5-0.1 0.5-0.1 0.5 0 0.5-0.2 0.5-0.8 0.5 0.2 0.5-0.5 0.5-0.7 0.5 0 0.5-0.4 0.5-0.1 0.5-0.8 0.5-0.3 0.5 0.1 0.5-0.5 0.5 0 0.5-0.1 0.5 0.4 0.5 0.1 0.5 0 0.5-0.5 0.5 1.4 0.5-0.1 0.5 0.6 0.5 0.2 0.5-0.1 0.5 1 0.5-0.1 0.5 0.4 0.5 0.3 0.5 0.8 0.5-0.6 0.5 0.2 0.5 0 0.5 0 0.5 0.1 0.5-0.3 0.5-0.1 0.5-0.2 0.5-0.2 0.5-0.3 0.5 0.5 0.5-1.3 0.5 0 0.5-0.7 0.5 0.2 0.5-0.4 0.5-0.6 0.5-0.4 0.5 0.3 0.5 0 0.5-0.9 0.5 0.3 0.5 0.4 0.5 0.2 0.5 0.3 0.5 0.5 0.5 0.1 0.5 0.5 0.5 0.6 0.5 0.1 0.5 0.9 0.5-0.1 0.5 0.6 0.5 0 0.5 0.3 0.5-0.1 0.5 0.1 0.5 0.2 0.5-0.2 0.5 0.7 0.5-0.6 0.5 0.6 0.5-0.4 0.5 0.3 0.5 0 0.5 0.2 0.5 0.5 0.5-0.1 0.5-0.8 0.5 0.2 0.5-0.3 0.5 0.3 0.5-0.4 0.5 0.5 0.5-0.5 0.5 0.9 0.5-0.6 0.5-0.2 0.5 0.2 0.5 0.2 0.5-0.4 0.5 0.9 0.5-0.4 0.5-0.2 0.5-0.2 0.5 0.4 0.5 0.1 0.5 0.1 0.5-0.3 0.5-0.2 0.5 0.5 0.5-0.3 0.5-0.2 0.5 0.3 0.5-0.1 0.5 0 0.5 0.3 0.5-1 0.5 1 0.5-0.3 0.5-0.1 0.5 0.1 0.5 0.2 0.5-0.5 0.5 0.3 0.5 0.4 0.5-0.1 0.5-0.6 0.5 0 0.5-0.2 0.5-0.1 0.5 0.7 0.5-0.1 0.5-0.7 0.5 0.9 0.5-0.3 0.5-0.3 0.5-0.4 0.5-0.1 0.5 0.3 0.5-0.2 0.5-0.8 0.5 0.3 0.5-0.3 0.5-0.1 0.5-1 0.5-0.3 0.5-0.4 0.5-0.5 0.5-0.5 0.5 0.1 0.5-1.2 0.5-0.4 0.5-0.6 0.5-0.3 0.5 0 0.5-0.5 0.5-0.1 0.5-0.3 0.5-0.4 0.5-0.6 0.5 0.6 0.5 0.1 0.5 0.3 0.5 0.3 0.5 0.6 0.5 0.6 0.5 0.8 0.5 0.8 0.5 0.9 0.5 1 0.5 0.4 0.5-0.2 0.5 1.1 0.5 0.5 0.5 0.3 0.5-0.2 0.5-0.1 0.5 0.9 0.5-0.2 0.5 0.8 0.5-0.9 0.5 1 0.5-1 0.5 1 0.5-0.5 0.5 0.2 0.5-0.1 0.5 0.2 0.5-0.3 0.5 0.2 0.5-0.6 0.5 0.3 0.5-0.3 0.5 0.3 0.5 0.1 0.5-0.1 0.5 0.4 0.5-0.1 0.5-0.1 0.5 0.1 0.5 0.2 0.5-0.7 0.5 0.1 0.5 0.1 0.5-0.3 0.5 0.2 0.5-0.3 0.5 0.1 0.5 0.7 0.5-0.5 0.5-0.5 0.5 0.7 0.5-0.2 0.5-0.5 0.5 0.4 0.5 0.1 0.5 0.2 0.5-0.3 0.5 0.5 0.5-0.4 0.5 0.8 0.5-0.4 0.5 0.2 0.5-0.1 0.5-0.8 0.5 0.8 0.5 0.4 0.5-0.3 0.5-0.4 0.5-0.4 0.5 0.7 0.5-0.5 0.5 0.2 0.5 0.2 0.5 0.1 0.5-0.6 0.5 0.5 0.5-0.1 0.5-0.3 0.5 0 0.5 0.2 0.5 0.4 0.5-0.6 0.5 0.4 0.5-0.6 0.5 0.1 0.5 0.2 0.5-0.1 0.5 0 0.5-0.3 0.5 0 0.5 0.1 0.5 0.2 0.5-0.1 0.5 0.1 0.5 0 0.5-0.4 0.5-0.2 0.5-0.1 0.5 0.6 0.5-0.4 0.5-0.1 0.5-0.3 0.5-0.7 0.5-0.1 0.5-0.4 0.5 0.3 0.5-0.8 0.5 0 0.5-0.8 0.5 0.1 0.5-0.5 0.5-0.5 0.5 0.5 0.5-0.7 0.5 0 0.5 0.4 0.5 0 0.5-0.1 0.5 0.3 0.5 0.6 0.5-0.3 0.5-0.3 0.5 1.5 0.5-0.2 0.5 0.4 0.5 0.6 0.5-0.1 0.5 0.3 0.5 0.7 0.5 0.1 0.5 0 0.5-0.1 0.5 0 0.5 0.7 0.5-0.1 0.5-0.3 0.5 0.4 0.5-0.7 0.5 0.9 0.5-0.1 0.5-0.2 0.5 0.5 0.5-0.2 0.5-0.2 0.5 0 0.5 0 0.5 0.3 0.5 0 0.5-0.3 0.5-0.3 0.5 0.3 0.5 0.2 0.5-0.3 0.5 0 0.5 0.1 0.5 0.2 0.5 0.1 0.5 0.1 0.5-0.9 0.5 0.9 0.5-0.2 0.5-0.3 0.5 0.4 0.5-0.8 0.5 0 0.5 1.2 0.5-1 0.5 0.5 0.5-0.4 0.5 0.1 0.5-0.1 0.5 0.6 0.5-0.9 0.5 0.6 0.5-0.3 0.5 0 0.5 0.5 0.5-0.5 0.5 0.2 0.5 0.2 0.5-0.1 0.5 0.2 0.5 0.1 0.5-0.2 0.5-0.2 0.5 0.1 0.5-0.1 0.5 0.4 0.5-0.5 0.5 0.3 0.5 0.1 0.5-0.4 0.5-0.3 0.5 0.7 0.5-0.2 0.5 0 0.5 0 0.5 0 0.5 0.1 0.5-0.1 0.5-0.2 0.5 0.4 0.5 0 0.5-0.4 0.5-0.4 0.5 0.9 0.5 0 0.5 0 0.5-0.4 0.5 0.5 0.5-0.2 0.5-0.2 0.5-0.2 0.5 0.8 0.5-0.5 0.5 0 0.5-0.3 0.5 0.5 0.5-0.3 0.5 0.6 0.5-0.4 0.5 0.1 0.5-0.4 0.5-0.1 0.5 0.1 0.5 0.1 0.5-0.2 0.5 0 0.5 0 0.5 0.5 0.5 0.1 0.5-0.4 0.5 0.7 0.5-0.4 0.5-0.1 0.5 0.1 0.5 0.5 0.5-0.3 0.5 0.1 0.5 0.6 0.5-1 0.5 0 0.5 0.3 0.5-0.5 0.5 0.1 0.5 0 0.5 0.8 0.5-0.4 0.5-0.2 0.5-0.1 0.5 0.4 0.5 0.1 0.5-0.4 0.5 0.4 0.5-0.4 0.5 0.5 0.5-0.1 0.5-0.3 0.5-0.3 0.5 0.5 0.5 0.1 0.5 0.4 0.5-0.7 0.5 0.1 0.5-0.1 0.5 0.4 0.5-0.2 0.5-0.2 0.5 0.2 0.5 0 0.5-0.2 0.5 0.4 0.5-0.3 0.5 0.1 0.5 0.1 0.5-0.4 0.5 0.5 0.5-0.1 0.5-0.1 0.5 0.8 0.5-0.4 0.5-0.4 0.5-0.2 0.5 0.3 0.5 0.6 0.5-1 0.5 0.8 0.5-0.5 0.5 0.4 0.5 0.7 0.5-0.4 0.5-0.2 0.5-0.1 0.5 0.3 0.5-0.5 0.5 0 0.5 0.3 0.5 0.6 0.5-0.5 0.5 0.3 0.5-0.5 0.5 0.2 0.5-0.4 0.5 0.5 0.5-0.3 0.5 0.6 0.5-0.1 0.5 0 0.5 0.2 0.5-0.5 0.5-0.6 0.5 0.2 0.5 0.6 0.5-0.4 0.5 0.2 0.5 0 0.5 0.3 0.5-0.9 0.5 1 0.5 0 0.5-0.1 0.5 0 0.5 0.6 0.5-0.6 0.5-0.7 0.5 1.2 0.5-0.8 0.5 0.4 0.5 0.5 0.5-0.8 0.5 0.3 0.5 0.3 0.5-0.3 0.5 0.3 0.5-0.3 0.5 0 0.5 0.1 0.5 0 0.5 0.2 0.5 0.2 0.5 0.1 0.5-0.8 0.5 0.3 0.5 0.2 0.5 0.3 0.5 0 0.5-0.6 0.5 0.9 0.5-0.6 0.5 0.8 0.5-1 0.5 0.1 0.5 0.7 0.5-0.6 0.5 0.2 0.5 0.3 0.5-0.2 0.5 0.5 0.5-0.8 0.5 0.3 0.5-0.3 0.5 0.5 0.5 0.1 0.5-0.2 0.5-0.4 0.5 0.5 0.5-0.5 0.5 0.1 0.5 0.1 0.5 0.2 0.5 0.1 0.5-0.3 0.5 0.1 0.5 0.7 0.5-0.6 0.5 0.1 0.5-0.3 0.5 0.9 0.5-0.8 0.5 0.1 0.5 0 0.5 0 0.5 0.3 0.5-0.3 0.5 0.3 0.5 0.4 0.5-0.9 0.5 0.2 0.5-0.1 0.5 0.3 0.5-0.2 0.5 0.3 0.5-1.1 0.5 1.3 0.5-0.5 0.5 0.3 0.5-0.7 0.5 1 0.5-1 0.5 0.2 0.5 0.5 0.5-0.4 0.5 0.1 0.5 0.9 0.5-0.5 0.5-0.3 0.5 0 0.5 0.4 0.5 0 0.5-0.3 0.5-0.5 0.5 0.4 0.5-0.5 0.5 0.4 0.5 0.5 0.5 0.3 0.5-0.1 0.5-0.2 0.5 0.2 0.5-0.8 0.5 0.7 0.5-0.7 0.5 0.2 0.5 0.4 0.5 0.6 0.5-0.8 0.5-0.1 0.5 0.5 0.5 0 0.5-0.5 0.5 0.4 0.5-0.3 0.5 0.4 0.5 0 0.5-0.1 0.5-0.1 0.5 0.2 0.5-0.4 0.5 0.8 0.5 0.1 0.5-0.3 0.5-0.6 0.5 0.9 0.5-1 0.5 0.7 0.5 0 0.5-0.1 0.5 0.2 0.5 0.2 0.5-0.8 0.5 0.7 0.5-0.6 0.5 0.3 0.5-0.3 0.5 0.2 0.5 0.1 0.5-0.1 0.5 0.2 0.5-0.2 0.5 0 0.5 0.1 0.5-0.1 0.5 0.6 0.5-0.8 0.5 0.9 0.5-0.6 0.5-0.3 0.5-0.1 0.5 0.3 0.5 0.2 0.5 0.1 0.5 0.5 0.5-1 0.5 0.7 0.5 0 0.5-0.5 0.5 0.4 0.5 0.3 0.5-0.1 0.5-0.5 0.5 0.6 0.5-0.3 0.5-0.1 0.5-0.1 0.5 0.4 0.5-0.3 0.5 0.2 0.5-0.2 0.5 0 0.5 0.2 0.5 0 0.5-0.2 0.5 0.1 0.5-0.1 0.5 0.1 0.5-0.4 0.5 0.3 0.5 0.5 0.5-0.3 0.5 0 0.5-0.4 0.5 0.4 0.5-0.1 0.5-0.1 0.5 0.6 0.5-1 0.5 0.7 0.5 0.2 0.5 0 0.5-0.1 0.5-0.1 0.5-0.1 0.5 0.2 0.5-0.1 0.5 0 0.5 0 0.5 0.3 0.5-0.3 0.5-0.2 0.5-0.1 0.5 0.4 0.5-0.7 0.5 1 0.5-0.6 0.5 0.4 0.5 0.3 0.5-0.2 0.5 0.2 0.5 0.3 0.5-0.5 0.5-0.6 0.5 0.8 0.5-0.3 0.5 0.3 0.5-0.1 0.5-0.6 0.5 0.7 0.5-0.7 0.5 0.2 0.5-0.3 0.5 0.9 0.5-0.5 0.5 0.2 0.5-0.7 0.5 0.3 0.5 0.5 0.5 0.1 0.5-0.4 0.5-0.2 0.5 0.2 0.5 0.1 0.5 0.1 0.5-0.1 0.5 0.4 0.5-0.6 0.5 0.4 0.5-0.1 0.5 0.2 0.5-0.7 0.5 0.4 0.5 0.1 0.5 0.2 0.5-0.2 0.5 0.2 0.5-0.2 0.5-0.1 0.5-0.3 0.5 0.7 0.5 0.7 0.5-1.5 0.5 0.4 0.5-0.2 0.5 0.4 0.5 0.5 0.5-0.7 0.5 0.5 0.5-0.3 0.5-0.4 0.5 0 0.5 0.7 0.5-0.4 0.5 0.5 0.5-0.3 0.5 0 0.5-0.5 0.5 0.3 0.5-0.5 0.5 0.7 0.5-0.2 0.5 0.5 0.5-0.6 0.5 0.3 0.5-0.2 0.5 0.4 0.5-0.7 0.5 0.4 0.5-0.1 0.5-0.5 0.5 0.3 0.5 0.7 0.5 0 0.5-0.4 0.5 0.5 0.5-0.3 0.5 0.1 0.5-0.3 0.5-0.2 0.5 0.2 0.5 0.5 0.5-0.5 0.5-0.7 0.5 0.9 0.5-0.3 0.5-0.6 0.5 0.7 0.5 0 0.5 0.1 0.5 0.1 0.5-0.2 0.5 0.1 0.5-0.3 0.5-0.1 0.5 0.4 0.5-0.2 0.5 0 0.5-0.1 0.5 0.3 0.5-0.4 0.5 0.2 0.5-0.1 0.5 0.8 0.5-0.4 0.5 0 0.5 0.4 0.5-0.9 0.5 0.5 0.5 0.3 0.5-0.4 0.5-0.1 0.5 0 0.5 0.2 0.5 0 0.5-0.2 0.5 0.5 0.5 0 0.5-0.1 0.5-0.8 0.5 0.6 0.5-0.1 0.5-0.3 0.5 0.5 0.5-0.5 0.5 0.6 0.5 0.1 0.5-0.4 0.5 0.6 0.5-0.9 0.5 0.9 0.5-0.4 0.5-0.2 0.5 0 0.5 0.6 0.5-0.5 0.5-0.1 0.5 0.8 0.5-0.6 0.5 0.6 0.5-0.7 0.5 0.2 0.5-0.5 0.5 0.1 0.5 0.2 0.5-0.5 0.5 0.4 0.5-0.2 0.5 0.2 0.5 0.4 0.5-0.3 0.5-0.1 0.5-0.2 0.5 0.5 0.5-0.1 0.5 0.4 0.5-0.3 0.5 0.1 0.5-0.2 0.5 0.4 0.5-0.9 0.5 0.6 0.5-0.4 0.5-0.2 0.5 0.4 0.5-0.2 0.5 0.5 0.5-0.2 0.5-0.3 0.5 0 0.5 0.5 0.5-0.2 0.5 0.3 0.5-0.5 0.5 0.9 0.5-0.9 0.5-0.5 0.5 0.7 0.5 0.5 0.5-0.7 0.5-0.2 0.5-0.3 0.5 0.3 0.5 0.3 0.5 0.1 0.5 0.1 0.5 0.3 0.5-0.7 0.5 0.5 0.5-0.2 0.5 0.5 0.5-0.4 0.5 0 0.5 0 0.5-0.3 0.5-0.1 0.5 0.3 0.5-0.3 0.5 0.8 0.5-0.9 0.5 0.5 0.5 0 0.5-0.2 0.5 0 0.5 0.2 0.5 0.2 0.5-0.2 0.5 0 0.5 0 0.5 0.8 0.5-1.2 0.5-0.3 0.5 1.1 0.5-0.1 0.5-0.2 0.5-0.6 0.5 0.9 0.5-0.2 0.5 0 0.5 0.2 0.5-0.6 0.5-0.1 0.5 0.3 0.5-0.1 0.5-0.1 0.5 0.2 0.5-0.4 0.5 0.3 0.5 0.4 0.5-0.7 0.5 0.1 0.5 0 0.5-0.2 0.5 0.6 0.5-0.2 0.5-0.2 0.5 0.5 0.5-0.4 0.5 0.2 0.5-0.2 0.5 0.3 0.5 0.2 0.5-0.7 0.5 0.4 0.5-0.1 0.5 0 0.5 0.1 0.5-0.1 0.5 0.5 0.5-0.4 0.5 0 0.5 0.5 0.5-0.3 0.5-0.3 0.5 0 0.5 0.2 0.5-0.1 0.5-0.1 0.5 0.1 0.5-0.2 0.5 0.7 0.5-0.1 0.5-0.6 0.5 0.5 0.5-0.3 0.5-0.2 0.5 0.2 0.5 0.3 0.5 0.2 0.5-0.4 0.5 0 0.5 0.2 0.5 0.1 0.5-0.8 0.5 0.9 0.5-0.7 0.5 0.6 0.5 0.2 0.5-0.4 0.5-0.3 0.5 0.2 0.5 0.4 0.5-0.6 0.5-0.2 0.5 0.6 0.5-0.1 0.5-0.2 0.5 0.5 0.5-0.1 0.5-0.2 0.5-0.1 0.5-0.1 0.5 0.2 0.5-0.6 0.5 0.2 0.5 0.2 0.5 0.3 0.5-0.7 0.5 0.5 0.5 0.4 0.5-0.3 0.5-0.2 0.5 0.6 0.5 0 0.5 0 0.5-0.3 0.5-0.2 0.5-0.2 0.5 0.3 0.5 0 0.5 0.1 0.5 0.4 0.5-0.3 0.5 0 0.5-0.4 0.5 0.1 0.5 0.2 0.5 0.2 0.5 0 0.5-0.2 0.5 0 0.5-0.5 0.5 1.2 0.5-0.6 0.5-0.4 0.5 0.1 0.5 0.3 0.5-0.2 0.5 0.3 0.5-0.5 0.5 0.4 0.5 0.4 0.5-0.5 0.5-0.1 0.5 0 0.5 0 0.5 0.2 0.5 0.4 0.5 0 0.5-0.8 0.5 0.4 0.5-0.2 0.5 0.3 0.5-0.2 0.5 0.4 0.5-0.2 0.5 0.4 0.5-0.3 0.5 0.4 0.5-0.4 0.5-0.3 0.5 0.8 0.5-0.6 0.5-0.5 0.5 0.7 0.5 0.3 0.5-0.6 0.5 0.2 0.5 0.2 0.5-0.1 0.5 0 0.5-0.5 0.5 0.1 0.5 0 0.5 0.6 0.5-0.1 0.5-0.1 0.5 0.3 0.5 0.2 0.5-0.4 0.5-0.4 0.5 0.3 0.5-0.6 0.5 0.4 0.5 0.2 0.5-0.4 0.5 0.5 0.5 0.2 0.5-0.4 0.5 0 0.5 0.4 0.5-0.1 0.5 0.3 0.5-0.1 0.5-0.7 0.5 0.2 0.5-0.1 0.5 0.2 0.5-0.3 0.5 0.4 0.5 0 0.5 0.3 0.5 0.2 0.5 0.1 0.5-1.2 0.5 0.7 0.5 0 0.5-0.4 0.5 0.9 0.5-0.6 0.5 0.3 0.5 0.1 0.5-0.3 0.5 0.5 0.5-1.1 0.5 1 0.5-0.8 0.5 0.7 0.5-0.5 0.5 0.2 0.5 0.3 0.5 0 0.5 0.3 0.5 0 0.5-0.8 0.5 0.2 0.5 0.3 0.5-0.1 0.5-0.3 0.5 0.3 0.5 0.1 0.5 0.1 0.5 0.2 0.5-0.7 0.5 0.2 0.5 0.2 0.5-0.6 0.5 0.3 0.5 0 0.5-0.2 0.5-0.1 0.5 0.8 0.5-0.8 0.5 0.8 0.5-0.1 0.5-0.5 0.5 0.5 0.5-0.4 0.5 0.1 0.5-0.1 0.5 0 0.5 0.5 0.5-0.3 0.5 0.2 0.5-0.1 0.5 0.8 0.5-1.2 0.5 0.5 0.5 0.3 0.5-0.7 0.5 0.2 0.5 0.5 0.5 0.1 0.5-0.1 0.5 0.2 0.5-0.5 0.5-0.1 0.5 0.3 0.5 0.2 0.5-0.8 0.5 0.9 0.5-0.6 0.5-0.4 0.5 0.8 0.5-0.5 0.5-0.2 0.5 0.5 0.5-0.4 0.5-0.2 0.5 0.8 0.5-0.9 0.5 0.4 0.5 0.4 0.5-0.2 0.5-0.5 0.5 0.2 0.5-0.1 0.5 0.5 0.5-0.6 0.5 1 0.5-0.8 0.5 0.1 0.5-0.4 0.5 0.5 0.5-0.2 0.5-0.1 0.5-0.3 0.5 0.9 0.5-0.4 0.5-0.4 0.5 0.2 0.5 0.4 0.5-0.2 0.5 0.1 0.5-0.4 0.5 0.6 0.5-0.8 0.5 0.5 0.5-0.6 0.5 0.7 0.5 0 0.5-0.1 0.5 0.2 0.5 0.1 0.5-0.6 0.5 0.2 0.5-0.2 0.5 0.6 0.5-0.9 0.5 0.2 0.5 0.2 0.5 0.1 0.5 0.5 0.5-0.7 0.5 0.2 0.5 0.1 0.5 0.2 0.5-0.2 0.5 0.1 0.5-0.1 0.5 0.1 0.5 0 0.5-0.6 0.5 0.6 0.5-0.1 0.5-0.1 0.5 0.3 0.5 0.1 0.5 0.1 0.5-0.3 0.5-0.1 0.5 0.1 0.5-0.5 0.5 0.3 0.5-0.2 0.5 0.9 0.5-0.3 0.5-0.2 0.5 0.3 0.5 0 0.5-0.3 0.5 0.2 0.5-0.2 0.5 0.3 0.5-0.5 0.5 0.1 0.5 0.1 0.5 0.2 0.5-0.5 0.5 0.3 0.5-0.3 0.5 0.2 0.5-0.5 0.5-0.2 0.5 0.6 0.5 0.1 0.5-0.3 0.5 1 0.5-1 0.5 0 0.5 0.3 0.5-0.2 0.5 0.3 0.5-0.4 0.5 0.5 0.5-0.6 0.5 0.2 0.5 0.1 0.5-0.2 0.5 0.4 0.5-0.1 0.5 0.2 0.5-0.6 0.5 0.3 0.5 0 0.5 0.3 0.5-0.2 0.5 0.1 0.5 0.1 0.5 0.2 0.5-0.3 0.5-0.6 0.5 0.3 0.5 0.7 0.5-0.6 0.5 0.3 0.5 0.4 0.5-0.7 0.5 0.1 0.5-0.2 0.5 0.6 0.5-0.4 0.5-0.3 0.5 0.2 0.5-0.1 0.5-0.2 0.5 0.6 0.5 0.1 0.5 0.2 0.5-0.6 0.5 0.4 0.5 0.4 0.5-1.3 0.5 0.3 0.5 0 0.5 0.9 0.5-0.4 0.5-0.2 0.5-0.1 0.5-0.1 0.5-0.1 0.5 0.2 0.5-0.3 0.5 0.6 0.5-0.1 0.5 0 0.5 0.5 0.5-0.2 0.5-0.2 0.5 0 0.5-0.2 0.5 0.4 0.5-0.3 0.5-0.2 0.5 0.1 0.5 0.1 0.5-0.3 0.5 0.5 0.5 0.5 0.5-1.1 0.5 0.1 0.5 0.1 0.5 0.2 0.5-0.3 0.5 0.6 0.5-0.4 0.5 0.3 0.5 0 0.5-0.4 0.5 0.3 0.5 0.5 0.5-0.8 0.5-0.1 0.5 0.9 0.5-0.7 0.5-0.3 0.5-0.3 0.5 0.8 0.5-0.1 0.5-0.6 0.5 0.6 0.5-0.6 0.5 0.7 0.5 0.2 0.5-0.4 0.5 0.4 0.5-0.9 0.5-0.1 0.5 0.9 0.5-0.8 0.5 0.4 0.5 0.6 0.5-0.3 0.5-0.3 0.5 0 0.5 0.4 0.5-0.6 0.5 0.4 0.5-0.1 0.5 0.1 0.5-0.2 0.5-0.1 0.5-0.3 0.5 0.8 0.5-0.4 0.5 0.4 0.5-0.1 0.5-0.9 0.5 0.9 0.5-0.3 0.5 0.3 0.5-0.5 0.5 0.6 0.5 0.3 0.5-1.2 0.5 0.5 0.5 0.1 0.5 0.2 0.5 0 0.5-0.4 0.5 0.2 0.5 0.3 0.5-0.5 0.5 0.2 0.5-0.1 0.5 0.1 0.5-0.6 0.5 0.8 0.5-0.2 0.5 0.2 0.5 0.1 0.5-0.1 0.5 0.1 0.5 0 0.5 0.2 0.5-0.6 0.5-0.4 0.5 0.5 0.5 0 0.5 0.2 0.5-0.1 0.5-0.2 0.5 0.4 0.5-0.3 0.5-0.4 0.5-0.2 0.5 0.4 0.5 0.9 0.5-0.7 0.5-0.2 0.5 0.2 0.5-0.5 0.5 1 0.5-0.8 0.5 0 0.5 0.2 0.5 0.5 0.5-0.1 0.5-0.1 0.5 0 0.5-0.8 0.5 1.1 0.5-0.4 0.5-0.2 0.5-0.2 0.5 0.5 0.5-0.5 0.5 0.2 0.5 0.7 0.5-0.7 0.5 0.2 0.5-0.1 0.5 0.4 0.5-0.6 0.5 0.5 0.5 0 0.5-0.1 0.5-0.3 0.5 0.4 0.5-0.5 0.5-0.5 0.5 0.9 0.5-0.5 0.5 0.3 0.5 0.1 0.5 0.3 0.5-0.8 0.5 0.8 0.5-0.3 0.5-0.2 0.5 0 0.5 0.1 0.5 0.3 0.5-0.2 0.5-0.4 0.5 0 0.5 0.3 0.5-0.4 0.5 1 0.5-0.1 0.5-0.5 0.5 0.2 0.5-0.7 0.5 1.3 0.5-1.1 0.5-0.1 0.5 1.3 0.5-1 0.5 0.4 0.5-0.6 0.5 0.4 0.5 0.2 0.5-0.1 0.5-0.1 0.5 0 0.5 0 0.5 0.1 0.5 0.3 0.5-0.6 0.5 0.1 0.5-0.1 0.5 0.1 0.5 0 0.5 0.1 0.5-0.2 0.5 0.8 0.5-0.5 0.5 0 0.5 0.1 0.5-0.3 0.5 0.5 0.5-0.8 0.5 0 0.5 0.5 0.5-0.1 0.5-0.2 0.5-0.1 0.5 0 0.5 0.9 0.5-0.4 0.5-1 0.5 0.9 0.5 0.1 0.5 0 0.5-0.4 0.5 0.3 0.5 0.2 0.5-0.3 0.5-0.2 0.5 0.1 0.5 0.3 0.5-0.6 0.5 0.6 0.5-0.5 0.5 0.2 0.5-0.1 0.5 0.2 0.5-0.4 0.5 0.2 0.5 0.1 0.5-0.3 0.5 0 0.5 0.7 0.5-0.2 0.5-0.2 0.5 0.1 0.5-0.2 0.5 0.3 0.5-0.1 0.5-0.3 0.5 0.2 0.5 0 0.5 0.1 0.5-0.5 0.5 0.6 0.5-0.2 0.5 0.2 0.5-0.3 0.5-0.3 0.5-0.1 0.5-0.1 0.5 0.3 0.5 0.4 0.5 0.4 0.5-0.5 0.5-0.4 0.5 0.5 0.5-0.1 0.5 0.2 0.5-0.6 0.5 0.5 0.5-0.3 0.5 0.5 0.5-0.5 0.5 0.3 0.5 0 0.5 0.3 0.5-0.5 0.5 0 0.5-0.2 0.5-0.2 0.5 0.6 0.5 0.1 0.5 0.1 0.5-0.2 0.5 0.7 0.5-0.3 0.5-0.3 0.5 0 0.5 0 0.5-0.5 0.5 0.4 0.5-0.2 0.5 0.1 0.5 0 0.5 0.1 0.5-0.3 0.5-0.1 0.5 0.1 0.5 0.5 0.5-0.4 0.5-0.2 0.5 0.6 0.5-0.2 0.5-0.1 0.5 0 0.5-0.5 0.5 0.3 0.5-0.2 0.5 0.1 0.5 0.4 0.5 0.7 0.5-0.4 0.5 0.1 0.5-0.9 0.5 0.7 0.5-0.3 0.5-0.3 0.5 0.1 0.5 0.4 0.5 0.8 0.5-1 0.5 0 0.5 0.3 0.5-0.5 0.5 0.5 0.5 0 0.5 0.2 0.5-0.5 0.5-0.1 0.5-0.3 0.5 1 0.5-1.3 0.5 0.8 0.5 0 0.5-0.1 0.5 0.4 0.5 0.3 0.5-0.7 0.5 0.3 0.5 0 0.5-0.3 0.5 0.1 0.5 0 0.5-0.3 0.5 0.4 0.5 0.1 0.5-0.3 0.5 0.4 0.5-0.8 0.5 0 0.5 0.9 0.5-0.8 0.5 0.6 0.5-0.6 0.5 0.5 0.5-0.1 0.5-0.1 0.5 0 0.5-0.1 0.5-0.4 0.5 0.7 0.5-0.5 0.5 0.7 0.5-0.1 0.5-0.6 0.5 0.6 0.5-0.3 0.5-0.6 0.5 0.8 0.5-0.3 0.5-0.1 0.5 0.3 0.5 0.2 0.5-0.3 0.5 0.1 0.5-0.7 0.5 0.6 0.5-0.1 0.5 0.1 0.5 0.3 0.5-0.1 0.5 0.1 0.5-0.6 0.5 0 0.5 0.5 0.5-0.4 0.5 0.6 0.5-0.8 0.5 0.5 0.5 0 0.5-0.9 0.5 0.8 0.5 0.4 0.5-0.4 0.5 0.1 0.5 0 0.5-0.1 0.5 0.1 0.5-0.4 0.5 0.5 0.5-0.2 0.5-0.2 0.5 0 0.5 0.2 0.5 0 0.5-0.4 0.5 0.2 0.5 1 0.5-0.6 0.5-0.4 0.5 0 0.5-0.1 0.5 0.2 0.5 0.1 0.5 0.2 0.5 0.3 0.5-0.3 0.5-0.8 0.5 0.1 0.5-0.1 0.5 0.4 0.5 0.3 0.5-0.1 0.5-0.6 0.5 0.7 0.5-0.8 0.5 0.7 0.5 0.2 0.5-0.1 0.5 0.2 0.5-0.5 0.5 0 0.5 0 0.5 0.2 0.5-0.5 0.5 0.7 0.5 0.2 0.5-0.4 0.5-0.3 0.5 0.2 0.5-0.3 0.5 0.4 0.5-0.4 0.5 0.3 0.5 0 0.5-0.7 0.5 1.3 0.5 0 0.5-0.6 0.5 0.5 0.5-0.3 0.5 0.1 0.5 0 0.5-0.7 0.5 0.6 0.5-0.1 0.5 0.3 0.5 0.1 0.5-0.6 0.5-0.4 0.5 0.5 0.5-0.5 0.5 0.8 0.5-0.3 0.5 0.5 0.5-0.5 0.5 0.6 0.5-1.1 0.5 0.7 0.5-0.3 0.5 0.1 0.5 0.6 0.5-0.7 0.5 0.2 0.5 0 0.5 0.3 0.5-0.5 0.5 0 0.5-0.2 0.5 0.5 0.5 0.1 0.5-1 0.5 0.6 0.5 0.3 0.5-0.2 0.5 0 0.5-0.2 0.5 0.6 0.5 0.6 0.5-1.1 0.5 0 0.5 0.1 0.5 0.4 0.5 0.1 0.5-0.3 0.5 0 0.5 0.2 0.5-0.5 0.5 0.4 0.5-0.5 0.5 0.2 0.5 0.5 0.5-0.6 0.5 0.1 0.5-0.3 0.5-0.1 0.5 0.7 0.5-0.4 0.5 0.4 0.5-0.3 0.5-0.1 0.5 0.6 0.5-0.7 0.5 0.5 0.5-0.6 0.5 0.3 0.5 0.1 0.5 0.3 0.5-0.3 0.5 0 0.5 0.4 0.5-0.5 0.5 0.4 0.5 0.2 0.5-0.3 0.5-0.1 0.5 0 0.5 0.2 0.5-0.5 0.5 0 0.5-0.1 0.5 0.1 0.5 0.1 0.5 0.6 0.5-0.3 0.5-0.1 0.5-0.3 0.5 0.5 0.5-0.1 0.5-0.2 0.5-0.1 0.5-0.2 0.5 0.4 0.5-0.1 0.5-0.3 0.5 0.3 0.5 0 0.5 0.3 0.5-0.6 0.5 0.1 0.5 0 0.5 0.3 0.5 0 0.5-0.5 0.5 0.3 0.5 0 0.5 0.2 0.5-0.4 0.5 0.4 0.5 0 0.5-0.3 0.5 0.7 0.5-0.7 0.5 0.2 0.5 0.2 0.5-0.1 0.5-0.4 0.5 0.3 0.5-0.3 0.5 0.2 0.5-0.3 0.5 1 0.5-0.1 0.5-0.4 0.5-0.4 0.5 0.1 0.5 1 0.5-0.9 0.5-0.1 0.5 0.6 0.5-0.9 0.5-0.1 0.5 0.8 0.5-0.7 0.5 0.6 0.5 0.2 0.5-0.4 0.5 0.6 0.5-0.7 0.5-0.2 0.5 0.4 0.5 0 0.5-0.3 0.5 0.6 0.5-0.7 0.5 0.5 0.5 0.4 0.5-0.2 0.5 0.1 0.5 0 0.5-0.2 0.5 0.1 0.5-0.3 0.5-0.9 0.5 1 0.5-0.9 0.5 0.3 0.5 0.5 0.5 0.3 0.5-0.7 0.5-0.3 0.5 0.3 0.5-0.1 0.5 0.5 0.5-0.5 0.5 0.6 0.5 0.3 0.5-0.3 0.5-0.1 0.5 0.4 0.5-0.3 0.5 0.1 0.5-0.1 0.5-0.9 0.5 0.6 0.5 0.7 0.5-0.8 0.5 0.5 0.5-0.4 0.5 0.2 0.5-0.5 0.5 0.2 0.5 0.3 0.5 0.1 0.5-0.5 0.5-0.1 0.5 0.7 0.5 0 0.5 0 0.5 0.3 0.5-0.2 0.5-0.1 0.5 0 0.5-0.2 0.5 0 0.5 0.2 0.5 0.1 0.5 0.3 0.5-0.5 0.5 0.1 0.5 0.2 0.5-0.3 0.5-0.3 0.5 0.2 0.5 0 0.5-0.1 0.5-0.2 0.5 0.6 0.5 0.2 0.5-0.8 0.5 0.9 0.5-1.1 0.5 0.7 0.5 0 0.5-0.4 0.5 0.6 0.5-0.4 0.5 0 0.5-0.3 0.5-0.4 0.5 0.4 0.5 0.6 0.5-0.8 0.5 0.3 0.5 0 0.5-0.2 0.5 0.3 0.5 0.1 0.5 0 0.5 0.3 0.5-0.2 0.5 0.5 0.5-0.1 0.5-0.4 0.5 0 0.5-0.1 0.5 0.2 0.5-0.3 0.5 0.2 0.5 0.2 0.5 0.1 0.5-0.1 0.5-0.4 0.5 0.2 0.5-0.5 0.5-0.2 0.5 0.6 0.5 0.5 0.5-1.2 0.5 0.4 0.5 0.6 0.5-0.1 0.5-0.1 0.5 0 0.5 0.3 0.5-0.5 0.5 0.1 0.5-0.2 0.5-0.2 0.5 1 0.5-0.8 0.5-0.3 0.5 0.7 0.5-0.9 0.5 0.8 0.5-0.7 0.5 0.6 0.5 0.1 0.5-0.6 0.5 0.7 0.5 0 0.5 0 0.5-0.6 0.5 0.9 0.5-0.5 0.5 0.5 0.5-0.4 0.5 0.3 0.5-0.2 0.5-0.5 0.5 0.7 0.5-0.6 0.5 0 0.5-0.1 0.5 0.5 0.5-0.1 0.5 0 0.5-0.7 0.5 1.2 0.5-0.4 0.5-0.1 0.5-0.1 0.5-0.1 0.5 0.2 0.5 0.3 0.5-0.8 0.5 0.5 0.5-0.2 0.5 0.2 0.5-0.5 0.5 0.4 0.5 0.2 0.5 0.3 0.5-0.4 0.5 0.4 0.5-0.5 0.5 0.1 0.5-0.4 0.5 0.5 0.5-0.4 0.5 0.6 0.5-0.9 0.5-0.2 0.5 0.1 0.5 0.9 0.5-0.4 0.5 0.2 0.5-0.1 0.5 0.3 0.5-0.7 0.5 0.2 0.5 0.1 0.5 0.4 0.5-0.4 0.5 0.2 0.5 0.2 0.5-0.2 0.5-0.2 0.5 0.2 0.5-0.2 0.5-0.3 0.5 0.3 0.5-0.3 0.5 0.8 0.5-0.5 0.5-0.5 0.5 0.7 0.5 0.4 0.5-0.8 0.5 0.5 0.5-0.7 0.5 0.4 0.5 0.1 0.5 0 0.5 0.2 0.5-0.1 0.5 0.2 0.5-0.1 0.5 0 0.5-0.4 0.5 0.1 0.5-0.2 0.5 0.5 0.5 0 0.5-0.1 0.5 0 0.5-0.6 0.5 0.7 0.5-0.4 0.5 0.4 0.5-0.2 0.5 0.2 0.5-0.2 0.5 0.1 0.5-0.2 0.5 0.5 0.5-0.7 0.5 0.1 0.5-0.1 0.5 0.5 0.5-0.3 0.5 0 0.5 0.3 0.5-0.2 0.5 0.3 0.5-0.4 0.5 0.5 0.5-0.5 0.5 0.1 0.5 0.6 0.5-0.9 0.5 0.4 0.5-0.5 0.5 0.4 0.5-0.3 0.5 0.7 0.5-0.3 0.5-0.3 0.5 0.1 0.5-0.1 0.5 0.5 0.5-0.4 0.5 0.2 0.5 0 0.5 0 0.5 0.5 0.5-0.8 0.5 0.2 0.5-0.5 0.5 0.6 0.5-0.2 0.5 0.5 0.5-0.2 0.5-0.4 0.5 0 0.5 0.5 0.5-0.5 0.5 0 0.5 0.2 0.5 0.1 0.5-0.2 0.5 0.1 0.5-0.1 0.5-0.3 0.5-0.1 0.5 0 0.5 0.3 0.5 0.2 0.5 0.1 0.5-0.2 0.5 0.7 0.5-0.8 0.5 0.4 0.5-0.4 0.5 0.1 0.5 0.2 0.5-0.3 0.5-0.2 0.5-0.1 0.5 0 0.5 0.7 0.5-0.2 0.5-0.2 0.5 0 0.5-0.2 0.5 0.2 0.5 0.1 0.5 0.3 0.5 0.7 0.5-0.8 0.5-0.3 0.5 0.3 0.5 0 0.5-0.4 0.5 0.2 0.5 0.1 0.5-0.2 0.5 0.2 0.5 0.4 0.5-0.1 0.5-0.5 0.5 0.2 0.5 0 0.5-0.1 0.5 0.2 0.5-0.5 0.5 0.4 0.5-0.3 0.5 0.5 0.5-0.4 0.5-0.4 0.5 0.7 0.5-0.4 0.5 0.5 0.5-0.7 0.5 0.7 0.5-0.5 0.5 1.1 0.5-0.7 0.5 0.4 0.5-0.3 0.5-0.1 0.5-0.6 0.5 0.9 0.5-0.2 0.5-0.2 0.5 0.2 0.5-0.1 0.5 0.1 0.5-0.5 0.5 0.5 0.5-0.4 0.5-0.1 0.5 0.3 0.5-0.4 0.5 0.3 0.5-0.2 0.5 0.2 0.5 0.4 0.5-0.2 0.5-0.1 0.5 0.1 0.5-0.3 0.5 0.5 0.5-0.1 0.5 0 0.5-0.4 0.5 0.2 0.5 0.3 0.5-0.2 0.5 0 0.5-0.3 0.5 0 0.5 0 0.5-0.2 0.5 0.5 0.5 0 0.5-0.2 0.5 0.5 0.5-0.9 0.5 1 0.5-0.3 0.5-0.2 0.5 0.2 0.5 0.3 0.5-0.5 0.5 0.6 0.5-0.8 0.5-0.5 0.5 0.5 0.5 0.8 0.5-0.2 0.5-0.5 0.5-0.4 0.5 0.5 0.5 0 0.5 0 0.5-0.7 0.5 0.5 0.5 0.3 0.5 0.1 0.5-0.6 0.5 0.1 0.5 0.3 0.5 0.3 0.5 0.1 0.5-0.6 0.5 0.1 0.5 0.3 0.5-0.1 0.5-0.3 0.5-0.3 0.5 0.3 0.5 0 0.5 0.5 0.5-0.4 0.5-0.3 0.5 0.6 0.5 0.1 0.5 0.1 0.5-0.4 0.5-0.2 0.5 0.1 0.5-0.5 0.5 0.6 0.5-0.4 0.5 0.3 0.5 0 0.5-0.5 0.5 0.8 0.5-0.5 0.5 0.4 0.5-0.2 0.5 0.3 0.5-0.5 0.5 0.7 0.5-0.5 0.5 0.4 0.5 0.1 0.5-0.7 0.5 0.5 0.5-0.5 0.5 0.2 0.5 0.2 0.5 0 0.5-0.2 0.5-0.3 0.5 0.4 0.5-0.3 0.5 0.7 0.5-0.7 0.5 0.2 0.5 0.1 0.5-0.7 0.5 0.5 0.5 0.4 0.5 0.1 0.5-0.2 0.5 0 0.5-0.1 0.5-0.2 0.5 0.6 0.5 0 0.5-0.7 0.5 0.3 0.5 0.3 0.5-0.2 0.5 0 0.5 0.1 0.5-0.1 0.5-0.4 0.5 0.5 0.5 0 0.5-0.1 0.5-0.1 0.5-0.1 0.5-0.3 0.5 0.1 0.5 0.1 0.5 0.8 0.5-0.4 0.5-0.3 0.5 0.4 0.5-0.1 0.5-0.3 0.5 0.4 0.5-0.4 0.5-0.4 0.5 0.4 0.5 0.3 0.5 0.3 0.5-1 0.5-0.1 0.5 0.2 0.5 0.2 0.5 0.4 0.5 0.4 0.5-0.2 0.5-0.9 0.5 0.2 0.5 0.6 0.5-0.4 0.5 0.2 0.5-0.3 0.5 0.6 0.5-0.7 0.5 0.2 0.5-0.2 0.5 0.7 0.5-0.6 0.5 0.4 0.5 0.2 0.5-0.3 0.5-0.6 0.5 0.9 0.5-0.2 0.5 0.2 0.5-0.6"/>
</g>
<g fill="#000">
<rect x="271.1" y="1657" width="12.5" height="28"/>
<rect x="388.9" y="1673" width="12.5" height="12"/>
<rect x="506.7" y="1657" width="12.5" height="28"/>
<rect x="624.5" y="1673" width="12.5" height="12"/>
<rect x="742.4" y="1657" width="12.5" height="28"/>
<rect x="860.2" y="1673" width="12.5" height="12"/>
<rect x="978.0" y="1657" width="12.5" height="28"/>
<rect x="1095.8" y="1673" width="12.5" height="12"/>
<rect x="1213.7" y="1657" width="12.5" height="28"/>
<rect x="1331.5" y="1673" width="12.5" height="12"/>
<rect x="1449.3" y="1657" width="12.5" height="28"/>
<rect x="1567.1" y="1673" width="12.5" height="12"/>
<rect x="1685.0" y="1657" width="12.5" height="28"/>
<rect x="1802.8" y="1673" width="12.5" height="12"/>
<rect x="1920.6" y="1657" width="12.5" height="28"/>
<rect x="2038.4" y="1673" width="12.5" height="12"/>
<rect x="2156.2" y="1657" width="12.5" height="28"/>
</g>
<rect x="159.5" y="24.5" width="2003" height="1665" fill="none" stroke="#000" stroke-width="13"/>
<g>
<text class="tk" transform="translate(239.09 1775.00) scale(1.0219 1.0000)">10</text>
<text class="tk" transform="translate(478.95 1775.00) scale(0.9618 1.0000)">20</text>
<text class="tk" transform="translate(713.59 1775.00) scale(0.9761 1.0000)">30</text>
<text class="tk" transform="translate(951.22 1775.00) scale(0.9478 1.0000)">40</text>
<text class="tk" transform="translate(1184.88 1775.00) scale(0.9761 1.0000)">50</text>
<text class="tk" transform="translate(1421.54 1775.00) scale(0.9618 1.0000)">60</text>
<text class="tk" transform="translate(1655.14 1775.00) scale(0.9909 1.0000)">70</text>
<text class="tk" transform="translate(1892.83 1775.00) scale(0.9618 1.0000)">80</text>
<text class="tk" transform="translate(2128.48 1775.00) scale(0.9618 1.0000)">90</text>
</g>
<g>
<text class="b" transform="translate(1934.61 541.8) scale(0.9443 1)">BZC</text>
<text class="b" transform="translate(2002.55 846.0) scale(0.9236 1)">BP</text>
<text class="b" transform="translate(1950.34 1238.0) scale(1.0141 1)">Zein</text>
<text class="b" transform="translate(1960.96 1520.0) scale(0.9596 1)">CAP</text>
</g>
<text class="xl" transform="translate(958.4 1948)">2θ (degree)</text>
<text class="b" transform="translate(84.3 1143.85) rotate(-90) scale(1.0177 1.01)">Intensity (a.u.)</text>
</svg>
</body>
</html>
